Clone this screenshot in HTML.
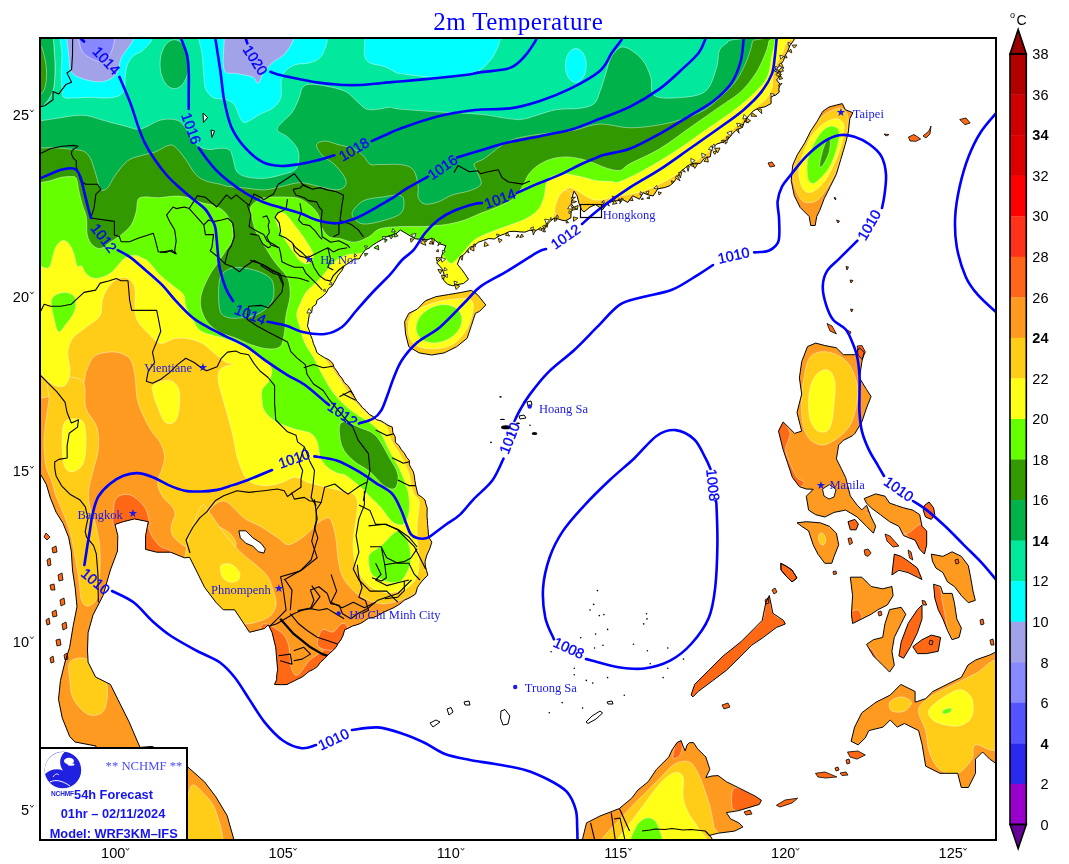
<!DOCTYPE html>
<html><head><meta charset="utf-8"><title>2m Temperature</title>
<style>html,body{margin:0;padding:0;background:#fff;}body{width:1069px;height:864px;overflow:hidden;position:relative;}svg{position:absolute;left:0;top:0;}</style></head><body>
<svg width="1069" height="864" viewBox="0 0 1069 864">
<defs>
<clipPath id="mc"><rect x="40" y="38" width="956" height="802"/></clipPath>
<clipPath id="cl_main"><path d="M36,34 L796,34 L793.8,40.3 L789.9,45.5 L787.8,51 L785.1,55.7 L783.4,60.7 L780,65.6 L774.2,70.7 L781.4,74.5 L776.6,79.9 L780,84.1 L778.8,89 L779.2,92.2 L775.6,95.2 L771,96.5 L771.1,103.5 L765,106.8 L758.8,108.1 L753.3,110.9 L748.9,115.7 L744.8,120.8 L742.2,127.4 L735.8,130.4 L731.8,134.6 L728,139.2 L722.9,142.1 L716.9,144 L711.7,148.1 L710.3,156.7 L704.4,158.3 L700.3,163.4 L694.4,163.2 L689.4,164.7 L685.2,167.8 L680.2,172.1 L676.7,178.2 L673.6,182.3 L669.9,185.6 L664.9,187.5 L657.9,188.8 L653.1,196 L648.2,194.9 L643,192.7 L639.5,199.2 L632.7,195.8 L627.8,202.5 L622.5,199.5 L617.9,200.6 L613.5,201.2 L607.6,203 L602.7,209.6 L595.6,204.6 L590,207 L584,212 L581.7,210 L579,203.4 L577.1,195.9 L574.1,191.1 L572.8,195 L572.3,199.4 L571.2,203.7 L574.2,207.7 L571.1,211.7 L570.9,217.9 L565.5,220.7 L562.9,220.5 L554.8,217.9 L550.7,220.8 L547.1,224.4 L543.9,228.7 L538.4,229.1 L534.5,231.4 L530,230.1 L525.1,232.1 L520,231.9 L514.8,231.3 L509.5,231.5 L504.5,233.9 L499.3,235.9 L494.3,239 L488.8,238.5 L483.7,240.3 L478.4,242.2 L474.3,245.6 L469.8,247.3 L467,250.7 L464.3,254.3 L460.2,256.9 L457.4,264.2 L462.2,270 L464.8,273.8 L468.5,279.3 L463.5,283.5 L457.8,284.5 L452.7,285.8 L447.7,284.4 L443.6,280.1 L444,273.9 L441.9,268.6 L436.6,262.7 L441.3,259.2 L441.9,255 L443.4,251.7 L445.9,245.7 L439.4,243.7 L435.6,240.8 L431.7,238.2 L426.6,240.1 L421.7,239.3 L415.8,238.9 L410.8,236.3 L400.4,230 L395.9,233.9 L390.3,235.5 L385.5,237.3 L381.3,240 L376.7,242.6 L372.3,245.4 L369.1,248.1 L365.5,249.6 L361.6,254.7 L359.2,258.9 L354.8,259 L349.3,262.5 L344,266.1 L341.9,270.6 L338.2,275.2 L334.5,281.9 L332.2,285.9 L328.5,288.5 L326,293.2 L322.2,296.7 L317,300.2 L316.1,304.3 L312.3,307 L311.9,311.3 L309.3,314.5 L307.5,326.2 L309.3,330.5 L310.5,335 L312.3,339.3 L313.5,343.8 L315.4,348 L316.8,352.5 L320.6,355.3 L324.6,357.7 L328.9,359.8 L332.6,363.1 L334.2,367.5 L336.9,371.1 L339.2,375 L342.1,378.4 L344.2,382.4 L347.7,385.5 L350.3,389.2 L352.5,393.1 L354.6,397.1 L356.9,401 L359.9,404.3 L362.5,407.6 L366,410.7 L369.2,414.3 L373.2,416.6 L376.8,419.8 L380.9,420.8 L384.5,423 L388,425.3 L392.3,427.1 L392.8,432.2 L395.2,436.9 L395.4,442.3 L398.9,445.5 L401.3,449.6 L404.3,453.1 L406.6,457.3 L409.3,460.5 L409.4,464.8 L411.3,468.4 L413.4,471.9 L414.3,475.9 L414.9,480.6 L415.7,485.3 L416.8,490 L417.9,494.6 L421.8,497.1 L425,500.1 L425.9,504.1 L427.2,508.1 L427.1,512.2 L427,516.2 L427.4,520.3 L427.6,524.3 L428,528.6 L428.3,533 L428.8,537.1 L431.8,542.1 L429.7,548.9 L426.8,555.1 L425,561.6 L425.3,566 L426.5,570.2 L427.8,575.1 L424.9,578 L422.1,581 L419.6,584.2 L417.4,587.5 L415.6,594 L410.7,597.2 L404.2,600.3 L401.1,603 L397.8,605.3 L393.1,608 L388.1,610.2 L383.1,612.5 L378.4,615.3 L373.7,617.4 L368.5,618.2 L364.6,620.9 L360.6,623.4 L356.5,624.9 L352.3,626.1 L348.4,628.2 L344.7,629.7 L342.9,635.9 L340.8,639.9 L338.1,643.4 L335.9,647.5 L332.1,651.2 L328.2,654.7 L324.6,658.6 L320.6,662.1 L317.4,666.5 L313.6,669.3 L309.2,671.3 L305.6,674.3 L301.9,677.2 L298.1,678.9 L294.4,680.8 L290.7,682.6 L287,684.5 L281.4,684.7 L274.5,684.5 L276.6,679.7 L276.8,674.6 L277.6,669.7 L275.7,647.2 L272,632.3 L268.3,624.8 L264.5,628.5 L249.5,632.3 L242.1,621 L234.6,609.8 L223.3,609.8 L215.9,602.3 L204.6,587.4 L197.2,572.4 L189.7,557.4 L184.4,557.8 L170.6,552.2 L156.7,552.2 L145.6,549.4 L145.6,535.6 L148.3,521.7 L134.4,518.9 L123.3,521.7 L115,524.4 L117.8,535.6 L117.5,551 L110.4,570 L103,595.6 L93,615 L88.1,632.6 L87.5,650 L88.1,662.2 L95.6,677 L110.4,684.4 L117.8,699.3 L128.9,721.5 L140,747.4 L152.3,746.4 L180,760 L187.8,767 L204.6,781.9 L215.9,796.9 L227.1,815.6 L234.6,842 L100,842 L96,746 L75,742 L69.6,736.3 L62.2,717.8 L58.5,699.3 L60.4,680.7 L65,662 L69.6,647.4 L73.3,625.2 L77,606.7 L75.2,588.1 L72.5,570 L71.3,551.1 L68.6,537.2 L63,523.3 L56.1,512.2 L50.5,498.3 L46.3,484.4 L40.8,474.7 L36,474Z"/></clipPath>
<clipPath id="cl_hn"><path d="M404.6,321.7 L408.8,313.3 L417.1,309.2 L425.4,300.8 L435.8,296.7 L448.3,294.6 L460.8,292.5 L471.3,290.4 L477.5,294.6 L485.8,305 L479.6,311.3 L475.4,313.3 L471.3,325.8 L467.1,338.3 L456.7,346.7 L444.2,352.9 L431.7,355 L419.2,352.9 L408.8,346.7 L405.6,334.2Z"/></clipPath>
<clipPath id="cl_tw"><path d="M836.3,105.1 L842.3,103.6 L845.3,109.7 L852.9,112.7 L849.8,118.7 L848.3,132.2 L845.3,144.3 L840.8,159.3 L836.3,174.4 L830.3,186.4 L824.3,198.4 L819.7,210.5 L816.7,216.5 L815.2,225.5 L810.7,225.5 L809.2,216.5 L800.2,207.5 L794.2,195.4 L791.2,180.4 L792.7,165.3 L797.3,154.8 L804.8,142.8 L810.8,130.8 L816.8,121.8 L822.8,111.3 L829,107Z"/></clipPath>
<clipPath id="cl_ph"><path d="M807.5,346.6 L815.6,343.1 L824.8,345.5 L836.4,347.8 L843.3,354.7 L854.9,354.7 L859.5,347.8 L864.2,352.4 L861.9,361.7 L859.5,377.9 L866.5,389.4 L871.1,396.4 L866.5,408 L861.9,421.9 L854.9,433.4 L852.6,435.7 L843.3,440.4 L838.7,445 L836.4,458.9 L841,468.1 L845.6,477.4 L848,486.7 L850.3,495.9 L857.2,505.2 L861.9,509.8 L866.5,505.2 L871.1,517 L875.7,526.3 L873.4,533.2 L866.5,526.3 L857.2,517 L845.6,510.1 L834.1,512.4 L824.8,517 L815.6,514.7 L808.6,510.1 L806.3,496.2 L813.2,489.3 L806.3,489 L799.4,486.7 L792.4,477.4 L787.8,463.5 L783.1,449.6 L778.5,431.1 L783.1,421.9 L794.7,433.4 L801.7,431.1 L797,412.6 L801.7,394.1 L799.4,377.9 L801.7,361.7Z"/><path d="M864.2,498.5 L875.7,493.9 L885,496.2 L889.6,503.1 L896.6,505.5 L903.5,507.8 L912.8,510.1 L919.7,514.7 L922,526.3 L926.7,530.9 L926.7,544.8 L924.4,554.1 L919.7,549.4 L915.1,540.2 L903.5,535.6 L898.9,526.3 L889.6,521.7 L880.4,514.7 L871.1,507.8 L866.5,503.1Z"/><path d="M924.4,505.5 L929,502 L933.6,507.8 L934.8,514.7 L931.3,519.4 L925.5,517 L923.2,510.1Z"/><path d="M797,522.8 L806.3,521.7 L820.2,522.8 L829.4,526.3 L836.4,533.2 L838.7,544.8 L834.1,556.4 L831.8,563.3 L824.8,563.3 L817.9,554.1 L813.2,544.8 L808.6,530.9 L801.7,526.3Z"/><path d="M848,521.7 L854.9,519.4 L858.4,524 L856.1,529.8 L850.3,529.8Z"/><path d="M931.3,554.1 L942.9,556.4 L952.1,551.8 L961.4,556.4 L968.3,565.6 L970.6,577.2 L973,591.1 L975.3,600.4 L968.3,602.7 L961.4,595.7 L954.4,586.5 L947.5,581.9 L942.9,572.6 L935.9,568 L932.4,561Z"/><path d="M933.6,584.2 L940.6,586.5 L942.9,593.4 L952.1,593.4 L954.4,602.7 L956.8,618.9 L961.4,628.1 L959.1,637.4 L952.1,639.7 L947.5,630.5 L942.9,618.9 L938.2,609.6 L934.8,598.1Z"/><path d="M850.3,577.2 L861.9,577.2 L871.1,586.5 L882.7,588.8 L891.9,586.5 L893.1,595.7 L887.3,605 L878.1,609.6 L871.1,614.3 L861.9,618.9 L852.6,623.5 L851.4,614.3 L852.6,595.7Z"/><path d="M889.6,609.6 L901.2,607.3 L905.8,614.3 L901.2,623.5 L894.3,637.4 L891.9,651.3 L894.3,665.2 L889.6,672.1 L882.7,665.2 L873.4,655.9 L866.5,644.4 L873.4,639.7 L882.7,637.4 L885,623.5Z"/><path d="M908.1,623.5 L917.4,609.6 L922,605 L922,618.9 L917.4,632.8 L910.5,646.7 L903.5,658.2 L898.9,655.9 L901.2,642Z"/><path d="M912.8,646.7 L922,639.7 L931.3,635.1 L940.6,637.4 L938.2,651.3 L926.7,653.6 L917.4,653.6Z"/><path d="M894.3,554.1 L901.2,556.4 L908.1,561 L917.4,568 L922,579.5 L917.4,577.2 L908.1,572.6 L898.9,570.3 L891.9,574.9Z"/><path d="M851.1,741.3 L854.6,727.1 L861.7,712.9 L876,702.2 L890.2,695.1 L900.8,684.4 L915.1,691.5 L915.1,702.2 L925.7,698.6 L932.8,691.5 L947,684.4 L961.3,677.3 L968,665 L975.5,660 L989.7,655 L1000,650 L1000,766.2 L989.7,759.1 L982.6,752 L975.5,759.1 L975.5,773.3 L968.4,787.5 L961.3,787.5 L957.7,773.3 L939.9,773.3 L925.7,766.2 L922.2,744.9 L918.6,730.6 L904.4,723.5 L897.3,727.1 L890.2,720 L883.1,727.1 L868.8,730.6 L865.3,737.8 L858.2,744.9Z"/><path d="M691.1,695.1 L694.7,684.4 L708.9,670.2 L723.1,656 L740.9,641.8 L748,634.7 L762.2,620.4 L765.8,602.7 L769.3,595.5 L772.9,613.3 L783.5,620.4 L785.3,624 L776.4,627.5 L762.2,638.2 L751.5,645.3 L740.9,656 L726.6,670.2 L712.4,680.9 L698.2,691.5 L692.9,696.9Z"/><path d="M780.8,563.3 L786,566 L792,570 L797,578 L792,581.9 L786,576 L781,570Z"/></clipPath>
<clipPath id="cl_bo"><path d="M582.3,842 L582.3,840 L586.5,822.9 L600,816 L619.4,808.5 L631.7,798.2 L637.9,790 L648.2,781.7 L656.4,769.4 L668.8,757 L672,750 L677,742.6 L681.1,740.6 L683,746 L685.2,750.9 L687,745 L689.4,742.7 L693.5,742.6 L697.6,748.8 L705.8,757 L709.9,769.4 L705.8,777.6 L712,776 L718.2,775.6 L726.4,781.7 L738.8,787.9 L755.2,796.1 L761.4,800.3 L759.3,804.4 L738.8,810.6 L726.4,812.6 L730.5,818.8 L738.8,822.9 L742.9,827 L734.6,831.1 L718.2,833.2 L709.9,835.3 L714,842Z"/></clipPath>
<clipPath id="cl_mb"><path d="M36,34 L796,34 L793.8,40.3 L789.9,45.5 L787.8,51 L785.1,55.7 L783.4,60.7 L780,65.6 L774.2,70.7 L781.4,74.5 L776.6,79.9 L780,84.1 L778.8,89 L779.2,92.2 L775.6,95.2 L771,96.5 L771.1,103.5 L765,106.8 L758.8,108.1 L753.3,110.9 L748.9,115.7 L744.8,120.8 L742.2,127.4 L735.8,130.4 L731.8,134.6 L728,139.2 L722.9,142.1 L716.9,144 L711.7,148.1 L710.3,156.7 L704.4,158.3 L700.3,163.4 L694.4,163.2 L689.4,164.7 L685.2,167.8 L680.2,172.1 L676.7,178.2 L673.6,182.3 L669.9,185.6 L664.9,187.5 L657.9,188.8 L653.1,196 L648.2,194.9 L643,192.7 L639.5,199.2 L632.7,195.8 L627.8,202.5 L622.5,199.5 L617.9,200.6 L613.5,201.2 L607.6,203 L602.7,209.6 L595.6,204.6 L590,207 L584,212 L581.7,210 L579,203.4 L577.1,195.9 L574.1,191.1 L572.8,195 L572.3,199.4 L571.2,203.7 L574.2,207.7 L571.1,211.7 L570.9,217.9 L565.5,220.7 L562.9,220.5 L554.8,217.9 L550.7,220.8 L547.1,224.4 L543.9,228.7 L538.4,229.1 L534.5,231.4 L530,230.1 L525.1,232.1 L520,231.9 L514.8,231.3 L509.5,231.5 L504.5,233.9 L499.3,235.9 L494.3,239 L488.8,238.5 L483.7,240.3 L478.4,242.2 L474.3,245.6 L469.8,247.3 L467,250.7 L464.3,254.3 L460.2,256.9 L457.4,264.2 L462.2,270 L464.8,273.8 L468.5,279.3 L463.5,283.5 L457.8,284.5 L452.7,285.8 L447.7,284.4 L443.6,280.1 L444,273.9 L441.9,268.6 L436.6,262.7 L441.3,259.2 L441.9,255 L443.4,251.7 L445.9,245.7 L439.4,243.7 L435.6,240.8 L431.7,238.2 L426.6,240.1 L421.7,239.3 L415.8,238.9 L410.8,236.3 L400.4,230 L395.9,233.9 L390.3,235.5 L385.5,237.3 L381.3,240 L376.7,242.6 L372.3,245.4 L369.1,248.1 L365.5,249.6 L361.6,254.7 L359.2,258.9 L354.8,259 L349.3,262.5 L344,266.1 L341.9,270.6 L338.2,275.2 L334.5,281.9 L332.2,285.9 L328.5,288.5 L326,293.2 L322.2,296.7 L317,300.2 L316.1,304.3 L312.3,307 L311.9,311.3 L309.3,314.5 L307.5,326.2 L309.3,330.5 L310.5,335 L312.3,339.3 L313.5,343.8 L315.4,348 L316.8,352.5 L320.6,355.3 L324.6,357.7 L328.9,359.8 L332.6,363.1 L334.2,367.5 L336.9,371.1 L339.2,375 L342.1,378.4 L344.2,382.4 L347.7,385.5 L350.3,389.2 L352.5,393.1 L354.6,397.1 L356.9,401 L359.9,404.3 L362.5,407.6 L366,410.7 L369.2,414.3 L373.2,416.6 L376.8,419.8 L380.9,420.8 L384.5,423 L388,425.3 L392.3,427.1 L392.8,432.2 L395.2,436.9 L395.4,442.3 L398.9,445.5 L401.3,449.6 L404.3,453.1 L406.6,457.3 L409.3,460.5 L409.4,464.8 L411.3,468.4 L413.4,471.9 L414.3,475.9 L414.9,480.6 L415.7,485.3 L416.8,490 L417.9,494.6 L421.8,497.1 L425,500.1 L425.9,504.1 L427.2,508.1 L427.1,512.2 L427,516.2 L427.4,520.3 L427.6,524.3 L428,528.6 L428.3,533 L428.8,537.1 L431.8,542.1 L429.7,548.9 L426.8,555.1 L425,561.6 L425.3,566 L426.5,570.2 L427.8,575.1 L424.9,578 L422.1,581 L419.6,584.2 L417.4,587.5 L415.6,594 L410.7,597.2 L404.2,600.3 L401.1,603 L397.8,605.3 L393.1,608 L388.1,610.2 L383.1,612.5 L378.4,615.3 L373.7,617.4 L368.5,618.2 L364.6,620.9 L360.6,623.4 L356.5,624.9 L352.3,626.1 L348.4,628.2 L344.7,629.7 L342.9,635.9 L340.8,639.9 L338.1,643.4 L335.9,647.5 L332.1,651.2 L328.2,654.7 L324.6,658.6 L320.6,662.1 L317.4,666.5 L313.6,669.3 L309.2,671.3 L305.6,674.3 L301.9,677.2 L298.1,678.9 L294.4,680.8 L290.7,682.6 L287,684.5 L281.4,684.7 L274.5,684.5 L276.6,679.7 L276.8,674.6 L277.6,669.7 L275.7,647.2 L272,632.3 L268.3,624.8 L264.5,628.5 L249.5,632.3 L242.1,621 L234.6,609.8 L223.3,609.8 L215.9,602.3 L204.6,587.4 L197.2,572.4 L189.7,557.4 L184.4,557.8 L170.6,552.2 L156.7,552.2 L145.6,549.4 L145.6,535.6 L148.3,521.7 L134.4,518.9 L123.3,521.7 L115,524.4 L117.8,535.6 L117.5,551 L110.4,570 L103,595.6 L93,615 L88.1,632.6 L87.5,650 L88.1,662.2 L95.6,677 L110.4,684.4 L117.8,699.3 L128.9,721.5 L140,747.4 L152.3,746.4 L180,760 L187.8,767 L204.6,781.9 L215.9,796.9 L227.1,815.6 L234.6,842 L100,842 L96,746 L75,742 L69.6,736.3 L62.2,717.8 L58.5,699.3 L60.4,680.7 L65,662 L69.6,647.4 L73.3,625.2 L77,606.7 L75.2,588.1 L72.5,570 L71.3,551.1 L68.6,537.2 L63,523.3 L56.1,512.2 L50.5,498.3 L46.3,484.4 L40.8,474.7 L36,474Z"/><path d="M582.3,842 L582.3,840 L586.5,822.9 L600,816 L619.4,808.5 L631.7,798.2 L637.9,790 L648.2,781.7 L656.4,769.4 L668.8,757 L672,750 L677,742.6 L681.1,740.6 L683,746 L685.2,750.9 L687,745 L689.4,742.7 L693.5,742.6 L697.6,748.8 L705.8,757 L709.9,769.4 L705.8,777.6 L712,776 L718.2,775.6 L726.4,781.7 L738.8,787.9 L755.2,796.1 L761.4,800.3 L759.3,804.4 L738.8,810.6 L726.4,812.6 L730.5,818.8 L738.8,822.9 L742.9,827 L734.6,831.1 L718.2,833.2 L709.9,835.3 L714,842Z"/></clipPath>
</defs>
<text x="518.2" y="29.6" text-anchor="middle" font-family="Liberation Serif,serif" font-size="25" letter-spacing="0.45" fill="#0000ff">2m Temperature</text>
<g clip-path="url(#mc)">
<rect x="40" y="38" width="956" height="802" fill="#fff"/>
<g clip-path="url(#cl_main)">
<rect x="30" y="30" width="980" height="820" fill="#ffcc18"/>
<path d="M93.2,357.2 C96.3,354.1 100.5,353.4 104.8,352.6 C109,351.8 114.5,351.5 118.7,352.6 C123,353.8 127.6,355.6 130.3,359.5 C133,363.4 133.8,369.1 134.9,375.7 C136.1,382.3 135.8,392.3 137.2,398.9 C138.5,405.4 140.7,409.8 143,415 C145.3,420.2 147.9,425.3 150.8,430 C153.7,434.7 158.2,438.7 160.5,443 C162.8,447.3 164.2,451.6 164.5,455.9 C164.8,460.2 163,465.4 162.1,468.9 C161.2,472.4 159.6,474 158.9,477 C158.2,480 157.3,483.2 158.1,486.7 C158.9,490.2 161.4,494.8 163.7,498 C166,501.2 169.9,503.4 171.8,506.1 C173.7,508.8 175.1,511.2 175.1,514.2 C175.1,517.2 172.4,520.7 171.8,523.9 C171.2,527.1 170.7,530.6 171.8,533.6 C172.9,536.6 175.6,539.3 178.3,541.7 C181,544.1 185,546.3 188,548.2 C191,550.1 194.1,551.1 196.1,553.1 C198.1,555.1 201.8,555.5 200,560 C198.2,564.5 193.3,570 185,580 C176.7,590 157.5,600 150,620 C142.5,640 125,673.3 140,700 C155,726.7 221.7,755.3 240,780 C258.3,804.7 285,836.7 250,848 C215,859.3 66.7,923 30,848 C-6.7,773 28.3,473 30,398 C31.7,323 37.2,398.2 40,398 C42.8,397.8 43.7,398 47,397 C50.3,396 54.2,394 60,392 C65.8,390 77.3,388.5 81.7,385 C86.1,381.5 84.4,375.7 86.3,371.1 C88.2,366.5 90.1,360.3 93.2,357.2Z" fill="#ff9a20" stroke="#fff" stroke-opacity="0.55" stroke-width="0.8"/>
<path d="M50,380 C55.5,376.7 75.7,375.4 81.7,380 C87.7,384.6 83.3,399.9 85.8,407.8 C88.3,415.7 94.8,420.3 96.9,427.2 C99,434.1 99,442 98.3,449.4 C97.6,456.8 94.4,464.8 92.8,471.7 C91.2,478.6 89.1,485.1 88.6,491.1 C88.1,497.1 88.8,502.2 90,507.8 C91.2,513.4 94,517.9 95.6,524.4 C97.2,530.9 99,538.4 99.7,546.7 C100.4,555 100.2,565.9 99.7,574.4 C99.2,582.9 99,592.7 97,598 C95,603.3 90.6,605.7 88,606 C85.4,606.3 83,604.3 81.5,600 C80,595.7 79.8,585.8 79,580 C78.2,574.2 77.3,569.8 76.5,565 C75.7,560.2 75,555.7 74.1,551.1 C73.2,546.5 72.4,541.8 71.3,537.2 C70.2,532.6 68.8,527.9 67.2,523.3 C65.6,518.7 63.5,513.9 61.6,509.4 C59.7,504.8 57.6,500.6 56,496 C54.4,491.4 53.6,486.7 52,482 C50.4,477.3 47.8,472.7 46.5,468 C45.2,463.3 44.9,458.7 44.5,454 C44.1,449.3 43.8,445.7 44,440 C44.2,434.3 45.2,426.7 46,420 C46.8,413.3 48.3,406.7 49,400 C49.7,393.3 44.5,383.3 50,380Z" fill="#ffcc18" stroke="#fff" stroke-opacity="0.55" stroke-width="0.8"/>
<path d="M69.9,662.2 C72.4,658.5 79.9,657.1 84.9,658.4 C89.9,659.6 96.2,664.7 99.9,669.7 C103.7,674.7 106.8,681.5 107.4,688.4 C108,695.2 106.7,706.4 103.6,710.8 C100.5,715.2 93.6,716.5 88.6,714.6 C83.6,712.7 76.8,705.2 73.7,699.6 C70.6,694 70.5,687.1 69.9,680.9 C69.3,674.7 67.4,666 69.9,662.2Z" fill="#ffcc18" stroke="#fff" stroke-opacity="0.55" stroke-width="0.8"/>
<path d="M190,788 C193.2,779.7 200.7,791 205,795 C209.3,799 213.3,803.7 216,812 C218.7,820.3 226,839.5 221,845 C216,850.5 191.2,854.5 186,845 C180.8,835.5 186.8,796.3 190,788Z" fill="#ffcc18" stroke="#fff" stroke-opacity="0.55" stroke-width="0.8"/>
<path d="M209.1,511 C210.2,508.3 214.5,504.5 217.2,502.9 C219.9,501.3 222.6,500.5 225.3,501.3 C228,502.1 230.2,504.9 233.4,507.7 C236.6,510.5 239.8,515.1 244.4,518.3 C249,521.5 255.5,523.5 261.1,526.7 C266.7,530 273.2,534.8 277.8,537.8 C282.4,540.8 284.3,545.2 288.9,544.7 C293.5,544.2 301,538.5 305.6,535 C310.2,531.5 312.9,526.8 316.7,523.9 C320.4,521 325.4,517.5 328.1,517.8 C330.8,518.1 331.6,522.1 333,525.9 C334.4,529.7 335.4,535.4 336.2,540.5 C337,545.6 337,551.3 337.8,556.7 C338.6,562.1 339.5,568.3 341.1,572.9 C342.7,577.5 344.8,580.8 347.5,584.3 C350.2,587.8 353.8,591.3 357.3,594 C360.8,596.7 364.6,598.9 368.6,600.5 C372.7,602.1 377.3,603.4 381.6,603.7 C385.9,604 390.2,603.2 394.5,602.1 C398.8,601 403.7,599.1 407.5,597.2 C411.3,595.3 414.5,593.4 417.2,590.7 C419.9,588 419.1,582 423.7,581 C428.3,580 441.4,565.2 445,585 C448.6,604.8 474.2,680.8 445,700 C415.8,719.2 305.8,710 270,700 C234.2,690 240.8,656.7 230,640 C219.2,623.3 207.5,610 205,600 C202.5,590 211.2,586.7 215,580 C218.8,573.3 224.5,565.8 228,560 C231.5,554.2 235.7,549.4 236,545 C236.3,540.6 232.7,536.6 230.1,533.6 C227.5,530.6 223.6,529.6 220.4,527.2 C217.2,524.8 212.6,521.8 210.7,519.1 C208.8,516.4 208,513.7 209.1,511Z" fill="#ff9a20" stroke="#fff" stroke-opacity="0.55" stroke-width="0.8"/>
<path d="M200,508 C204.1,500.1 205.5,508.8 209.4,512.8 C213.3,516.8 218.2,525.7 223.3,532.2 C228.4,538.7 234.4,546.1 240,551.7 C245.6,557.3 252.1,561.4 256.7,565.6 C261.3,569.8 265,572.5 267.8,576.7 C270.6,580.9 271.9,586 273.3,590.6 C274.7,595.2 276.6,600.2 276.1,604.4 C275.7,608.6 273.4,612.8 270.6,615.6 C267.8,618.4 263.6,619.7 259.4,621.1 C255.2,622.5 250.5,624.1 245.6,623.9 C240.7,623.7 237.6,624 230,620 C222.4,616 207.5,610 200,600 C192.5,590 185,575.3 185,560 C185,544.7 195.9,515.9 200,508Z" fill="#ffcc18" stroke="#fff" stroke-opacity="0.55" stroke-width="0.8"/>
<path d="M220.8,565.6 C222.2,563.5 227.6,563.3 230.6,564.2 C233.6,565.1 237.5,568.6 238.9,571.1 C240.3,573.6 240.3,577.5 238.9,579.4 C237.5,581.2 233.4,582.7 230.6,582.2 C227.8,581.8 223.8,579.5 222.2,576.7 C220.6,573.9 219.4,567.7 220.8,565.6Z" fill="#ffff18" stroke="#fff" stroke-opacity="0.55" stroke-width="0.8"/>
<path d="M113.6,507.8 C113.9,502.6 115.1,498.9 117.8,496.7 C120.5,494.5 126.1,494 129.7,494.8 C133.3,495.6 136.7,498.9 139.4,501.3 C142.1,503.7 144.3,506.2 145.9,509.4 C147.5,512.6 148.9,517.9 149.1,520.7 C149.3,523.5 152.5,524.8 147,526 C141.5,527.2 121.6,531 116,528 C110.4,525 113.3,513 113.6,507.8Z" fill="#ff6814" stroke="#fff" stroke-opacity="0.55" stroke-width="0.8"/>
<path d="M146.7,527.2 C148.1,524 150.1,533.7 152.4,536.9 C154.7,540.1 157.8,544.5 160.5,546.6 C163.2,548.8 166.7,548.2 168.6,549.8 C170.5,551.4 176.1,555 172,556 C167.9,557 148.2,560.8 144,556 C139.8,551.2 145.3,530.4 146.7,527.2Z" fill="#ff6814" stroke="#fff" stroke-opacity="0.55" stroke-width="0.8"/>
<path d="M262,625 C265.1,620.3 276.3,629 280.6,632 C284.9,635 286.4,638.8 288,643 C289.6,647.2 289.3,652.5 290,657 C290.7,661.5 290.7,667 292,670 C293.3,673 295,676.7 298,675 C301,673.3 305.8,664 310,660 C314.2,656 319.3,654 323,651 C326.7,648 329.7,645 332,642 C334.3,639 335.3,635.5 337,633 C338.7,630.5 339.8,627.8 342,627 C344.2,626.2 349.3,625 350,628 C350.7,631 348.5,640.5 346,645 C343.5,649.5 339.3,651.7 335,655 C330.7,658.3 325,661.7 320,665 C315,668.3 310,670.8 305,675 C300,679.2 295.8,686.7 290,690 C284.2,693.3 274.7,700 270,695 C265.3,690 263.3,671.7 262,660 C260.7,648.3 258.9,629.7 262,625Z" fill="#ff6814" stroke="#fff" stroke-opacity="0.55" stroke-width="0.8"/>
<path d="M322,630 C324.5,627.7 329.8,633 333,632 C336.2,631 338.7,625 341,624 C343.3,623 346.2,623.3 347,626 C347.8,628.7 348.2,636 346,640 C343.8,644 338.7,649 334,650 C329.3,651 320,649.3 318,646 C316,642.7 319.5,632.3 322,630Z" fill="#ff6814" stroke="#fff" stroke-opacity="0.55" stroke-width="0.8"/>
<path d="M20,20 C150,-38.8 682,16.5 810,20 C938,23.5 792.5,35.7 788,41 C783.5,46.3 784.8,48.3 783,52 C781.2,55.7 778.7,59.2 777,63 C775.3,66.8 773.8,70.8 773,75 C772.2,79.2 773.2,84 772,88 C770.8,92 768.8,95.7 766,99 C763.2,102.3 758.9,104.8 755.4,108 C751.9,111.2 748.5,114.7 745,118 C741.5,121.3 741.2,121.7 734.5,127.8 C727.8,133.9 714.6,146.8 704.6,154.8 C694.6,162.8 684.6,169.7 674.6,175.7 C664.6,181.7 654.7,187.2 644.7,190.7 C634.7,194.2 623.2,195.2 614.7,196.7 C606.2,198.2 601.3,201.2 593.8,199.7 C586.3,198.2 575.4,187.6 569.8,187.7 C564.2,187.8 564.1,193.3 560,200 C555.9,206.7 553.3,221.3 545,228 C536.7,234.7 520,236.3 510,240 C500,243.7 490.3,244.2 485,250 C479.7,255.8 480.2,268 478,275 C475.8,282 478.3,287.8 472,292 C465.7,296.2 458.7,298.7 440,300 C421.3,301.3 378.3,300 360,300 C341.7,300 338,295.7 330,300 C322,304.3 314.3,318.5 312,326 C309.7,333.5 313.5,339 316,345 C318.5,351 323,356.2 327,362 C331,367.8 335.3,373.3 340,380 C344.7,386.7 349.7,395.7 355,402 C360.3,408.3 366.8,414 372,418 C377.2,422 382.8,422.3 386,426 C389.2,429.7 388.5,435 391,440 C393.5,445 398,450.3 401,456 C404,461.7 407,468 409,474 C411,480 411.4,487.7 413,492 C414.6,496.3 417.8,497.1 418.8,500 C419.8,502.9 419.1,505.6 418.8,509.7 C418.5,513.8 417.5,519.2 417.2,524.3 C416.9,529.4 416.9,535.6 417.2,540.5 C417.5,545.4 418.5,548.9 418.8,553.5 C419.1,558.1 419.3,563.8 418.8,568.1 C418.3,572.4 417.5,576.2 415.6,579.4 C413.7,582.6 410.5,585.5 407.5,587.5 C404.5,589.5 401.6,590.8 397.8,591.6 C394,592.4 389.1,593.1 384.8,592.4 C380.5,591.7 375.7,589.9 371.9,587.5 C368.1,585.1 364.8,581.6 362.1,577.8 C359.4,574 357.2,569.7 355.7,564.8 C354.2,559.9 353.5,554 353.2,548.6 C352.9,543.2 353.4,537.8 354,532.4 C354.6,527 355.9,521.3 356.5,516.2 C357.1,511.1 357.8,505.7 357.3,502 C356.8,498.3 355.8,495.7 353.3,493.9 C350.8,492.1 346.8,492.3 342.2,491.1 C337.6,489.9 331.2,488.3 325.6,486.9 C320.1,485.5 314,484.4 308.9,482.8 C303.8,481.2 299.6,477.2 295,477.2 C290.4,477.2 286.2,481.4 281.1,482.8 C276,484.2 269.9,486.1 264.4,485.6 C258.8,485.1 252.2,484.3 247.8,480 C243.4,475.7 240.5,467.3 238,460 C235.5,452.7 234.7,443.2 233,436 C231.3,428.8 229.7,423.2 228,417 C226.3,410.8 224.5,405 222.9,398.9 C221.3,392.8 218.6,385.4 218.2,380.4 C217.8,375.4 218.3,371.5 220.6,368.8 C222.9,366.1 231.3,365.4 232.1,364.2 C232.9,363 228.3,363.8 225.2,361.9 C222.1,360 217.5,355.7 213.6,352.6 C209.7,349.5 206.2,345.6 202,343.3 C197.8,341 192.7,339.5 188.1,338.7 C183.5,337.9 178.9,337.9 174.3,338.7 C169.7,339.5 164.7,344.1 160.4,343.3 C156.2,342.5 152.7,338 148.8,334.1 C144.9,330.2 139.5,324.8 137.2,320.2 C134.9,315.6 135.3,311.7 134.9,306.3 C134.5,300.9 136.1,292.4 134.9,287.8 C133.8,283.2 130.7,280.1 128,278.5 C125.3,276.9 121.8,277.3 118.7,278.5 C115.6,279.7 112.1,282 109.4,285.5 C106.7,289 104,294.4 102.5,299.4 C101,304.4 102.9,311 100.2,315.6 C97.5,320.2 90.9,323.2 86.3,327.1 C81.7,331 75.5,334.4 72.4,338.7 C69.3,342.9 68.2,347.2 67.8,352.6 C67.4,358 70.5,365.7 70.1,371.1 C69.7,376.5 68.2,382.7 65.5,385 C62.8,387.3 58.1,386.9 53.9,385 C49.6,383.1 44,375.4 40,373.4 C36,371.4 33.3,431.9 30,373 C26.7,314.1 -110,78.8 20,20Z" fill="#ffff18" stroke="#fff" stroke-opacity="0.55" stroke-width="0.8"/>
<path d="M153.4,385 C156.1,382.7 165.3,379.6 169.6,380.4 C173.8,381.2 177.3,384.6 178.9,389.6 C180.5,394.6 179.7,405.1 178.9,410.5 C178.1,415.9 176.6,420.1 174.3,422 C172,423.9 167.7,424.3 165,422 C162.3,419.7 160,412.7 158.1,408.1 C156.2,403.5 154.2,398.2 153.4,394.3 C152.6,390.4 150.7,387.3 153.4,385Z" fill="#ffff18" stroke="#fff" stroke-opacity="0.55" stroke-width="0.8"/>
<path d="M65,421.7 C67.3,418.9 72.9,418.4 76.1,418.9 C79.3,419.3 82.8,419.3 84.4,424.4 C86,429.5 86.2,442.4 85.8,449.4 C85.3,456.3 84.2,462.4 81.7,466.1 C79.2,469.8 73.6,472.2 70.6,471.7 C67.6,471.2 65,469.3 63.6,463.3 C62.2,457.3 62,442.5 62.2,435.6 C62.4,428.7 62.7,424.5 65,421.7Z" fill="#ffff18" stroke="#fff" stroke-opacity="0.55" stroke-width="0.8"/>
<path d="M554.6,211.3 C554.3,207.1 557.1,200.2 558.8,196.7 C560.5,193.2 562.9,190.8 565,190.4 C567.1,190.1 569.9,191.1 571.3,194.6 C572.7,198.1 573.6,207.1 573.3,211.3 C572.9,215.5 571.3,217.9 569.2,219.6 C567.1,221.3 563.2,223.1 560.8,221.7 C558.4,220.3 554.9,215.5 554.6,211.3Z" fill="#ffcc18" stroke="#fff" stroke-opacity="0.55" stroke-width="0.8"/>
<path d="M30,266 C33.3,307 37.5,265.7 40,266 C42.5,266.3 43.3,268 45,268 C46.7,268 48.4,269.3 50.1,266 C51.8,262.7 53.2,252.6 55.2,248.4 C57.2,244.2 59.8,241.6 62,240.8 C64.2,240 66.7,241.3 68.7,243.4 C70.7,245.5 72.4,249.7 73.8,253.5 C75.2,257.3 75.9,263.9 77.2,266 C78.5,268.1 80.2,264.7 81.7,266 C83.2,267.3 84,271.8 86.3,273.9 C88.6,276 91.8,278.5 95.6,278.5 C99.4,278.5 105.6,276.2 109.4,273.9 C113.2,271.6 116.2,267.2 118.7,264.6 C121.2,262.1 121.8,260.2 124.5,258.6 C127.2,257 131.5,255.2 134.6,255.2 C137.7,255.2 140.7,257.5 143.1,258.6 C145.5,259.7 146,259.3 148.8,262 C151.6,264.7 156.1,271.2 160,275 C163.9,278.8 168.1,281.7 172,285 C175.9,288.3 181.2,291.1 183.5,294.7 C185.8,298.2 184.2,302.1 185.8,306.3 C187.4,310.6 190.1,315.9 192.8,320.2 C195.5,324.4 196.6,328.7 202,331.8 C207.4,334.9 217.5,336 225.2,338.7 C232.9,341.4 242.1,344.9 248.3,348 C254.5,351.1 258.3,353.7 262.2,357.2 C266.1,360.7 270.3,364.9 271.5,368.8 C272.7,372.7 270.8,376.9 269.2,380.4 C267.6,383.9 263.4,386.3 262.2,389.6 C261,392.9 261.6,396.5 262,400 C262.4,403.5 262.3,407.1 264.4,410.6 C266.5,414.1 269.7,417.8 274.6,420.8 C279.5,423.8 287.7,426.6 293.7,428.7 C299.7,430.8 306.6,431 310.5,433.2 C314.4,435.4 315.7,438.6 317.2,442.1 C318.7,445.7 318.6,451.1 319.5,454.5 C320.4,457.9 321.2,459.9 322.9,462.3 C324.6,464.7 327,467.2 329.6,469.1 C332.2,471 336,472.6 338.6,473.6 C341.2,474.6 341.6,473 345,475 C348.4,477 354.7,482 358.9,485.6 C363.1,489.2 366.3,493 370,496.7 C373.7,500.4 377.4,503.6 381.1,507.8 C384.8,512 388.5,518.9 392.2,521.7 C395.9,524.5 400.5,525.8 403.3,524.4 C406.1,523 407.9,517.9 408.9,513.3 C409.8,508.7 409.6,502.2 409,497 C408.4,491.8 406.8,487.2 405,482 C403.2,476.8 400.7,471.3 398,466 C395.3,460.7 391.9,455.5 389,450 C386.1,444.5 383.7,437.5 380.7,433.1 C377.7,428.7 374.8,426.4 371,423.4 C367.2,420.4 362.7,418.5 358.1,415.3 C353.5,412.1 347.8,408.1 343.5,404 C339.2,399.9 335.6,395.9 332.1,391 C328.6,386.1 325.4,380.2 322.4,374.8 C319.4,369.4 317.3,364 314.3,358.6 C311.3,353.2 307,347.8 304.6,342.4 C302.2,337 301,330.8 299.7,326.2 C298.4,321.6 296.6,318.3 296.7,314.5 C296.8,310.7 298.8,307.2 300.3,303.6 C301.8,300 303.6,295.8 305.7,292.8 C307.8,289.8 310.2,288.3 312.9,285.6 C315.6,282.9 319.3,279.6 322,276.6 C324.7,273.6 326.8,270.2 329.2,267.5 C331.6,264.8 333.4,262.4 336.4,260.3 C339.4,258.2 343.1,256.1 347.3,254.9 C351.5,253.7 356.2,254.8 361.7,253.1 C367.1,251.4 370.3,247.2 380,245 C389.7,242.8 409.6,238.3 420,240 C430.4,241.7 437,251.1 442.1,255 C447.2,258.9 448,262.6 450.4,263.3 C452.8,264 454.2,261.4 456.7,259.2 C459.2,257 462.4,253.1 465.3,249.9 C468.2,246.7 470.6,242.8 474.3,240 C478.1,237.2 482.6,235.6 487.8,233.3 C493,231.1 499.7,228.8 505.7,226.5 C511.7,224.2 518.5,222.4 523.7,219.8 C529,217.2 533.8,214.5 537.2,210.8 C540.6,207.1 542.4,201.9 543.9,197.4 C545.4,192.9 545,187.3 546.1,183.9 C547.2,180.5 547.6,178.8 550.6,177.1 C553.6,175.4 558.9,173.8 564.1,173.8 C569.4,173.8 576.9,176 582.1,177.1 C587.3,178.2 590.6,179.8 595.5,180.5 C600.4,181.2 607.2,181.4 611.3,181.6 C615.4,181.8 614.4,183.6 620,181.6 C625.6,179.6 635.6,174.7 644.7,169.7 C653.8,164.7 664.6,158.3 674.6,151.8 C684.6,145.3 694.6,137.8 704.6,130.8 C714.6,123.8 726,116.4 734.5,109.9 C743,103.4 749.9,97.4 755.4,91.9 C760.9,86.4 764.6,82.9 767.4,76.9 C770.1,70.9 770.6,62 771.9,56 C773.1,50 774.2,47 774.9,41 C775.6,35 901.8,23.5 776,20 C650.2,16.5 144.3,-21 20,20 C-104.3,61 26.7,225 30,266Z" fill="#66ff00" stroke="#fff" stroke-opacity="0.55" stroke-width="0.8"/>
<path d="M51.6,299.4 C53.1,295.1 59.2,292.8 63.1,292.4 C67,292 72.8,293.9 74.7,297 C76.6,300.1 76.2,306.3 74.7,310.9 C73.2,315.5 68.2,321.3 65.5,324.8 C62.8,328.3 60.4,333 58.5,331.8 C56.6,330.6 55,323.3 53.9,317.9 C52.8,312.5 50.1,303.6 51.6,299.4Z" fill="#66ff00" stroke="#fff" stroke-opacity="0.55" stroke-width="0.8"/>
<path d="M368.6,561.6 C368.3,558.1 368,556.2 370.2,553.5 C372.4,550.8 377.8,548.6 381.6,545.4 C385.4,542.1 389.9,536.4 392.9,534 C395.9,531.6 397.2,530.2 399.4,530.8 C401.6,531.3 404.1,534.3 405.9,537.3 C407.6,540.3 409.1,544.5 409.9,548.6 C410.7,552.7 411.1,557.8 410.7,561.6 C410.3,565.4 409.1,568.1 407.5,571.3 C405.9,574.5 403.7,579.1 401,581 C398.3,582.9 394.5,582.9 391.3,582.6 C388.1,582.3 384.8,580.8 381.6,579.4 C378.4,578 374.1,577.5 371.9,574.5 C369.7,571.5 368.9,565.1 368.6,561.6Z" fill="#66ff00" stroke="#fff" stroke-opacity="0.55" stroke-width="0.8"/>
<path d="M275.8,215.4 C276.9,213.3 280.7,211.2 284.2,213.3 C287.7,215.4 292.9,223 296.7,227.9 C300.5,232.8 304.3,238 307.1,242.5 C309.9,247 313,251.5 313.3,255 C313.6,258.5 311.3,262.2 309.2,263.3 C307.1,264.4 303.6,263.4 300.8,261.3 C298,259.2 295.3,254.6 292.5,250.8 C289.7,247 286.6,242.5 284.2,238.3 C281.8,234.1 279.3,229.6 277.9,225.8 C276.5,222 274.8,217.5 275.8,215.4Z" fill="#ffff18" stroke="#fff" stroke-opacity="0.55" stroke-width="0.8"/>
<path d="M30,182.5 C33.3,209.6 36.6,182.8 40,182.5 C43.4,182.2 46.7,181.6 50.1,180.8 C53.5,180 56.9,178.2 60.3,177.5 C63.7,176.8 67.7,176.5 70.4,176.6 C73.1,176.7 74.9,175.9 76.3,178.3 C77.7,180.7 77.9,186.6 78.9,191 C79.9,195.4 81,200 82.3,204.5 C83.6,209 85.7,212.9 86.5,218 C87.3,223.1 86.3,230.4 87.3,234.9 C88.3,239.4 90.2,242.8 92.4,245.1 C94.7,247.3 97.7,249 100.8,248.4 C103.9,247.8 107.6,243.9 111,241.7 C114.4,239.4 117.7,237.7 121.1,234.9 C124.5,232.1 128.8,228.7 131.3,224.8 C133.8,220.9 135.2,215.5 136.3,211.3 C137.4,207.1 136.6,201.8 138,199.4 C139.4,197 141.4,197.2 144.8,196.9 C148.2,196.6 153.2,197.8 158.3,197.7 C163.4,197.6 170.1,196.1 175.2,196.1 C180.3,196.1 184.2,196.6 188.7,197.7 C193.2,198.8 197.7,201.4 202.2,202.8 C206.7,204.2 211.9,204.4 215.8,206.2 C219.7,207.9 223.1,210 225.8,213.3 C228.5,216.6 231.1,221.3 232.1,225.8 C233.1,230.3 233.1,236.2 232.1,240.4 C231.1,244.6 228.2,247 225.8,250.8 C223.4,254.6 220.3,259.1 217.5,263.3 C214.7,267.5 211.8,270.9 209.2,275.8 C206.6,280.7 203.3,287.3 201.9,292.5 C200.5,297.7 199.9,302.2 200.8,307.1 C201.7,312 204,317.5 207.1,321.7 C210.2,325.9 214.7,329.3 219.6,332.1 C224.5,334.9 231.1,336.2 236.3,338.3 C241.5,340.4 245.6,342.9 250.8,344.6 C256,346.4 262.6,348.5 267.5,348.8 C272.4,349.1 277.2,349.1 280,346.7 C282.8,344.3 283.2,339.4 284.2,334.2 C285.2,329 285,321.6 286,315.4 C287,309.1 289.5,302.3 290,296.7 C290.5,291.1 289.8,285.8 289,282 C288.2,278.2 286.8,276.7 285,274 C283.2,271.3 280.2,268.7 278,266 C275.8,263.3 273.8,260.7 272,258 C270.2,255.3 268.7,252.7 267,250 C265.3,247.3 263.8,245 262,242 C260.2,239 257.7,236.1 256,232 C254.3,227.9 252.9,221.7 252,217.5 C251.1,213.3 249.4,210.2 250.8,207.1 C252.2,204 256.9,200.6 260.6,198.9 C264.3,197.2 268.7,197.4 273.2,197.1 C277.7,196.8 283.2,196.8 287.7,197.1 C292.2,197.4 296.4,197.4 300.3,198.9 C304.2,200.4 308.1,203.4 311.1,206.1 C314.1,208.8 316.6,211.6 318.4,215.2 C320.2,218.8 320.2,224.2 322,227.8 C323.8,231.4 326.2,235 329.2,236.8 C332.2,238.6 335.8,237.7 340,238.6 C344.2,239.5 349.7,242.5 354.5,242.2 C359.3,241.9 364.6,239 368.9,236.8 C373.1,234.6 374.4,230.5 380,228.8 C385.6,227.1 395,226.9 402.5,226.5 C410,226.1 417.4,226.9 424.9,226.5 C432.4,226.1 440.7,225.4 447.4,224.3 C454.1,223.2 459.7,221.7 465.3,219.8 C470.9,217.9 475.4,215.3 481,213.1 C486.6,210.8 493.4,208.9 499,206.3 C504.6,203.7 510.6,201.1 514.7,197.4 C518.8,193.7 521.5,187.7 523.7,183.9 C526,180.2 526,177.9 528.2,174.9 C530.5,171.9 533.5,168.5 537.2,165.9 C540.9,163.3 545.7,160.7 550.6,159.2 C555.5,157.7 561.1,156.9 566.4,156.9 C571.6,156.9 577.2,158.1 582.1,159.2 C587,160.3 591.4,162.2 595.5,163.7 C599.6,165.2 602.7,167.1 606.8,168.2 C610.9,169.3 616.2,171.1 620,170.4 C623.8,169.7 623.1,167.4 629.7,163.8 C636.3,160.2 649.6,154.8 659.6,148.8 C669.6,142.8 679.6,134.8 689.6,127.8 C699.6,120.8 711,112.9 719.5,106.9 C728,100.9 734.5,97.4 740.5,91.9 C746.5,86.4 751.4,79.9 755.4,73.9 C759.4,67.9 762.1,61.5 764.4,56 C766.6,50.5 768,47 768.9,41 C769.8,35 894.8,23.5 770,20 C645.2,16.5 143.3,-7.1 20,20 C-103.3,47.1 26.7,155.4 30,182.5Z" fill="#339900" stroke="#fff" stroke-opacity="0.55" stroke-width="0.8"/>
<path d="M339.4,427.2 C339.9,423 341.8,421.7 345,421.7 C348.2,421.7 353.8,424.9 358.9,427.2 C364,429.5 370.5,430.5 375.6,435.6 C380.7,440.7 385.7,451.3 389.4,457.8 C393.1,464.3 396.9,469.3 397.8,474.4 C398.7,479.5 397.3,486.4 395,488.3 C392.7,490.2 388.1,488.4 383.9,485.6 C379.7,482.8 375.1,475.9 370,471.7 C364.9,467.5 357.9,464.8 353.3,460.6 C348.7,456.4 344.5,452.3 342.2,446.7 C339.9,441.1 338.9,431.4 339.4,427.2Z" fill="#339900" stroke="#fff" stroke-opacity="0.55" stroke-width="0.8"/>
<path d="M30,30 C-90.5,49.7 28.3,128.2 30,147.9 C31.7,167.6 35.5,147.9 40,147.9 C44.5,147.9 51.3,147.6 56.9,147.9 C62.5,148.2 69.3,149 73.8,149.6 C78.3,150.2 81.1,149.8 83.9,151.3 C86.7,152.9 88.7,155.1 90.7,158.9 C92.7,162.7 94.1,169 95.8,174.1 C97.5,179.2 98.8,187.1 100.8,189.3 C102.8,191.6 105.1,190.1 107.6,187.6 C110.1,185.1 112.6,178.6 116,174.1 C119.4,169.6 123.7,163.7 127.9,160.6 C132.1,157.5 136.9,156.9 141.4,155.5 C145.9,154.1 150.4,153.8 154.9,152.1 C159.4,150.4 165,146.2 168.4,145.4 C171.8,144.6 172.4,144.8 175.2,147 C178,149.2 181.9,154.4 185.3,158.9 C188.7,163.4 192.1,170.4 195.5,174.1 C198.9,177.8 201.5,179.1 205.6,180.8 C209.7,182.5 216.3,183.3 220,184.2 C223.7,185.1 223.7,185.7 228,186.3 C232.3,187 240.1,187.5 246.1,188.1 C252.1,188.7 258.2,190.2 264.2,189.9 C270.2,189.6 276.2,187.5 282.2,186.3 C288.2,185.1 294.3,182.6 300.3,182.6 C306.3,182.6 312.4,185.1 318.4,186.3 C324.4,187.5 332,190 336.4,189.9 C340.8,189.8 343.6,188 345,186 C346.4,184 346.7,181.5 345,178 C343.3,174.5 338.8,168.8 335,165 C331.2,161.2 325.1,158.4 322,155 C318.9,151.6 316,146.9 316.6,144.6 C317.2,142.3 321.9,141.1 325.5,141.1 C329.1,141.1 333.6,143.4 338,144.6 C342.4,145.8 348.1,146.4 352.2,148.2 C356.3,150 359.9,152.6 362.9,155.3 C365.9,158 367.1,162.7 370,164.2 C372.9,165.7 374.6,164.4 380,164.5 C385.4,164.6 396.9,163.8 402.5,164.8 C408.1,165.8 411.1,166.9 413.7,170.4 C416.3,173.9 417.4,181.6 418.2,186.1 C418.9,190.6 417.1,194.4 418.2,197.4 C419.3,200.4 421.5,203.4 424.9,204.1 C428.3,204.8 433.9,203.3 438.4,201.8 C442.9,200.3 446.6,197 451.8,195.1 C457,193.2 464.9,192.5 469.8,190.6 C474.7,188.7 479.9,187.3 481,183.9 C482.1,180.5 477.6,173.8 476.5,170.4 C475.4,167 473.2,165.6 474.3,163.7 C475.4,161.8 480.3,161.1 483.3,159.2 C486.3,157.3 489.3,154.8 492.3,152.5 C495.3,150.2 497.5,147.9 501.2,145.7 C504.9,143.4 508.7,140.9 514.7,139 C520.7,137.1 529.7,135.6 537.2,134.5 C544.7,133.4 553.2,132.9 559.6,132.2 C566,131.4 568.6,131.4 575.3,130 C582,128.6 590.7,124.4 599.8,124 C608.9,123.6 619.7,127.7 629.7,127.8 C639.7,127.9 650.6,126.3 659.6,124.8 C668.6,123.3 676.1,121.3 683.6,118.8 C691.1,116.3 698.6,113.4 704.6,109.9 C710.6,106.4 714.5,102.4 719.5,97.9 C724.5,93.4 730.5,87.9 734.5,82.9 C738.5,77.9 741,72.9 743.5,67.9 C746,62.9 748,57.5 749.5,53 C751,48.5 751.9,44.8 752.5,41 C753.1,37.2 873.4,31.8 753,30 C632.6,28.2 150.5,10.3 30,30Z" fill="#00b24a" stroke="#fff" stroke-opacity="0.55" stroke-width="0.8"/>
<path d="M219.6,280 C221,273.4 224.4,271.7 227.9,269.6 C231.4,267.5 235.2,267.1 240.4,267.5 C245.6,267.9 254,269.6 259.2,271.7 C264.4,273.8 269.3,276.2 271.7,280 C274.1,283.8 274.1,290.4 273.8,294.6 C273.5,298.8 272,301.9 269.6,305 C267.2,308.1 263.4,311.2 259.2,313.3 C255,315.4 249.8,316.8 244.6,317.5 C239.4,318.2 232.1,318.9 227.9,317.5 C223.7,316.1 221,315.4 219.6,309.2 C218.2,302.9 218.2,286.6 219.6,280Z" fill="#00b24a" stroke="#fff" stroke-opacity="0.55" stroke-width="0.8"/>
<path d="M352.7,211.5 C354.2,208.4 358.7,203.1 363.5,200.7 C368.3,198.3 375.5,198 381.6,197.1 C387.7,196.2 396.3,194.3 400,195.3 C403.7,196.3 404,199.9 404,203 C404,206.1 403.7,211 400,214 C396.3,217 387.7,219.3 381.6,221 C375.5,222.7 368,224.3 363.5,224 C359,223.7 356.3,221.1 354.5,219 C352.7,216.9 351.2,214.6 352.7,211.5Z" fill="#00b24a" stroke="#fff" stroke-opacity="0.55" stroke-width="0.8"/>
<path d="M53.5,20 C-59.2,21.6 53.3,33.9 53.5,39.7 C53.7,45.5 54.2,49.5 54.5,54.9 C54.8,60.2 55.2,66.2 55,71.8 C54.8,77.4 54.5,84.2 53.5,88.7 C52.5,93.2 50.7,96 49,98.8 C47.3,101.6 44.9,104.2 43.4,105.6 C41.9,107 42.2,106.9 40,107.3 C37.8,107.7 31.7,105.7 30,108 C28.3,110.3 28.3,118.9 30,121 C31.7,123.1 35.5,121.2 40,120.8 C44.5,120.3 51.3,119.1 56.9,118.3 C62.5,117.5 68.7,116.1 73.8,115.7 C78.9,115.3 83.1,115.1 87.3,115.7 C91.5,116.3 95.2,118 99.2,119.1 C103.2,120.2 106.8,121.4 111,122.5 C115.2,123.6 120,124.8 124.5,125.9 C129,127 134.1,129.3 138,129.3 C141.9,129.3 144.8,127.3 148.2,125.9 C151.6,124.5 154.9,121.9 158.3,120.8 C161.7,119.7 165,119.1 168.4,119.1 C171.8,119.1 175.8,119.4 178.6,120.8 C181.4,122.2 183.1,124.5 185.3,127.6 C187.6,130.7 189.8,136.3 192.1,139.4 C194.4,142.5 196.1,144.5 198.9,146.2 C201.7,147.9 205.4,149.2 209,149.5 C212.6,149.8 217.3,148.1 220.7,148.2 C224.1,148.3 227.5,148.2 229.6,150 C231.7,151.8 231.9,155.3 233.1,158.9 C234.3,162.5 234.6,168.4 236.7,171.3 C238.8,174.2 241.1,175.4 245.5,176.6 C249.9,177.8 257.4,178.7 263.3,178.4 C269.2,178.1 275.8,176.4 281.1,174.9 C286.4,173.4 292.3,172.2 295.3,169.5 C298.3,166.8 298.6,162.5 298.9,158.9 C299.2,155.3 298.9,151.8 297.1,148.2 C295.3,144.6 291.5,140.5 288.2,137.5 C284.9,134.5 278.7,132.8 277.5,130.4 C276.3,128 278.7,126.2 281.1,123.3 C283.5,120.3 288.8,116.8 291.8,112.7 C294.8,108.6 297.1,102.6 298.9,98.4 C300.7,94.2 300.6,90.2 302.4,87.8 C304.2,85.4 305.6,84.5 309.5,84.2 C313.4,83.9 319.6,84.8 325.5,86 C331.4,87.2 340.1,88.9 345.1,91.3 C350.2,93.7 352.2,97.2 355.8,100.2 C359.4,103.2 362.5,107.6 366.4,109.1 C370.2,110.6 375,109.4 378.9,109.1 C382.8,108.8 386,107.3 389.5,107.3 C393,107.3 391.6,108.3 400,109.1 C408.4,109.9 426.7,111.1 440,112 C453.3,112.9 468.4,113.2 480,114.3 C491.6,115.4 502.4,118 509.9,118.8 C517.4,119.5 517.4,120.3 524.9,118.8 C532.4,117.3 545.9,111.6 554.9,109.9 C563.9,108.2 572.3,109.4 578.8,108.4 C585.3,107.4 590.3,106.7 593.8,103.9 C597.3,101.2 597.8,96.9 599.8,91.9 C601.8,86.9 603.7,79.9 605.7,73.9 C607.7,67.9 608.7,60.5 611.7,56 C614.7,51.5 618.7,46.5 623.7,47 C628.7,47.5 637.2,54 641.7,59 C646.2,64 648.7,70.9 650.7,76.9 C652.7,82.9 649.6,91.4 653.6,94.9 C657.6,98.4 666.1,98.4 674.6,97.9 C683.1,97.4 697.6,96.9 704.6,91.9 C711.6,86.9 714,74.9 716.5,67.9 C719,60.9 717.5,54.5 719.5,50 C721.5,45.5 726.8,44.3 728.5,41 C730.2,37.7 842.5,33.5 730,30 C617.5,26.5 166.2,18.4 53.5,20Z" fill="#02e89c" stroke="#fff" stroke-opacity="0.55" stroke-width="0.8"/>
<path d="M30,30 C33.9,17 49.6,28.4 53.5,30 C57.4,31.6 53.3,35.6 53.5,39.7 C53.7,43.9 54.2,49.5 54.5,54.9 C54.8,60.2 55.2,66.2 55,71.8 C54.8,77.4 54.5,84.2 53.5,88.7 C52.5,93.2 50.7,96 49,98.8 C47.3,101.6 44.9,104.2 43.4,105.6 C41.9,107 42.2,106.9 40,107.3 C37.8,107.7 31.7,120.9 30,108 C28.3,95.1 26.1,43 30,30Z" fill="#00b24a" stroke="#fff" stroke-opacity="0.55" stroke-width="0.8"/>
<path d="M30,45 C31.7,36.5 37.7,43.3 40,45 C42.3,46.7 42.9,50.8 44,55 C45.1,59.2 46.2,65 46.5,70 C46.8,75 46.4,81 45.5,85 C44.6,89 43.6,92.2 41,94 C38.4,95.8 31.8,104.2 30,96 C28.2,87.8 28.3,53.5 30,45Z" fill="#339900" stroke="#fff" stroke-opacity="0.55" stroke-width="0.8"/>
<ellipse cx="174.4" cy="64.2" rx="14.4" ry="24.5" fill="#00b24a" stroke="#fff" stroke-opacity="0.55" stroke-width="0.8"/>
<path d="M60.3,39.7 C60.6,43.9 61.9,49.5 62,54.9 C62.1,60.2 61.1,66.2 61.1,71.8 C61.1,77.4 61.6,84.5 62,88.7 C62.4,92.9 61.7,95.7 63.7,97.2 C65.7,98.8 69.3,98 73.8,98 C78.3,98 85.1,97.2 90.7,97.2 C96.3,97.2 102.8,98.3 107.6,98 C112.4,97.7 116.6,97 119.4,95.5 C122.2,94 123.5,92.1 124.5,88.7 C125.5,85.3 124.7,79.4 125.3,75.2 C125.9,71 126.4,66.8 127.9,63.4 C129.5,60 132.3,56.9 134.6,54.9 C136.8,52.9 139.1,53.2 141.4,51.5 C143.7,49.8 146.5,46.8 148.2,44.8 C149.9,42.8 150.9,42.2 151.5,39.7 C152.1,37.2 167.2,31.6 152,30 C136.8,28.4 75.3,28.4 60,30 C44.7,31.6 60,35.6 60.3,39.7Z" fill="#00ffff" stroke="#fff" stroke-opacity="0.55" stroke-width="0.8"/>
<path d="M198.9,39.7 C199.6,43.9 201.4,48.7 202.2,54.9 C203,61.1 203.3,71.3 203.9,76.9 C204.5,82.5 204.2,85.3 205.6,88.7 C207,92.1 210,95.5 212.4,97.2 C214.8,98.9 217.4,98.3 220,98.8 C222.6,99.3 225.3,99.1 227.8,100.2 C230.3,101.3 232.8,102.5 234.9,105.5 C237,108.5 238.4,115.2 240.2,118 C242,120.8 242.2,123 245.5,122.4 C248.8,121.8 255.1,116.9 259.8,114.4 C264.6,111.9 270.4,110.2 274,107.3 C277.6,104.3 279.9,100.8 281.1,96.7 C282.3,92.6 280.5,86.6 281.1,82.4 C281.7,78.2 282.3,74.8 284.7,71.8 C287.1,68.8 291.2,66.2 295.3,64.7 C299.4,63.2 305.4,64.1 309.5,62.9 C313.6,61.7 317.5,60.3 320.2,57.6 C322.9,54.9 324.3,49.9 325.5,46.9 C326.7,43.9 326.9,42.6 327.3,39.8 C327.7,37 349.6,31.6 328,30 C306.4,28.4 219.5,28.4 198,30 C176.5,31.6 198.2,35.6 198.9,39.7Z" fill="#00ffff" stroke="#fff" stroke-opacity="0.55" stroke-width="0.8"/>
<path d="M364.6,30 C342,31.6 364.6,35.5 364.6,39.8 C364.6,44.1 363.7,51.9 364.6,55.8 C365.5,59.6 366.7,61.1 370,62.9 C373.3,64.7 380.1,64.9 384.2,66.4 C388.3,67.9 392.3,70.6 394.9,71.8 C397.5,73 392.9,72.6 400,73.5 C407.1,74.4 424.9,77.5 437.4,77.3 C449.9,77 466.2,74.5 474.8,72 C483.4,69.5 485.4,65.7 489,62 C492.6,58.3 494.8,53.5 496.5,50 C498.2,46.5 498.9,44.3 499.5,41 C500.1,37.7 522.5,31.8 500,30 C477.5,28.2 387.2,28.4 364.6,30Z" fill="#00ffff" stroke="#fff" stroke-opacity="0.55" stroke-width="0.8"/>
<ellipse cx="575.8" cy="65.5" rx="10.5" ry="17" fill="#00ffff" stroke="#fff" stroke-opacity="0.55" stroke-width="0.8"/>
<path d="M67,39.7 C67.3,43.9 68,49.5 68.7,54.9 C69.4,60.2 69,67.8 71.3,71.8 C73.6,75.8 77.6,76.9 82.3,78.6 C87,80.3 94.4,81.9 99.2,81.9 C104,81.9 107.9,80.3 111,78.6 C114.1,76.9 116,75.2 117.7,71.8 C119.4,68.4 119.4,62.2 121.1,58.3 C122.8,54.3 125.9,51.2 127.9,48.1 C129.9,45 132.2,42.7 133,39.7 C133.8,36.7 144,31.6 133,30 C122,28.4 78,28.4 67,30 C56,31.6 66.7,35.6 67,39.7Z" fill="#a2a2e8" stroke="#fff" stroke-opacity="0.55" stroke-width="0.8"/>
<path d="M78.9,39.7 C79.5,43.3 80.3,48.4 82.3,51.5 C84.3,54.6 87.6,56.6 90.7,58.3 C93.8,60 98,61.7 100.8,61.7 C103.6,61.7 105.6,60.6 107.6,58.3 C109.6,56 111.6,51.2 112.7,48.1 C113.8,45 114.1,42.7 114.4,39.7 C114.7,36.7 120.3,31.6 114.4,30 C108.5,28.4 84.8,28.4 78.9,30 C73,31.6 78.3,36.1 78.9,39.7Z" fill="#8888ff" stroke="#fff" stroke-opacity="0.55" stroke-width="0.8"/>
<path d="M224.2,39.8 C224.2,46.5 222.1,64.4 224.2,70 C226.3,75.6 231.9,72.3 236.7,73.5 C241.4,74.7 249.1,75.5 252.7,77.1 C256.2,78.7 256.2,83.9 258,83.3 C259.8,82.7 260.9,76.9 263.3,73.5 C265.7,70.1 268.6,66.2 272.2,62.9 C275.8,59.6 281.1,57.9 284.7,54 C288.2,50.1 291.9,43.8 293.5,39.8 C295.1,35.8 305.6,31.6 294,30 C282.4,28.4 235.6,28.4 224,30 C212.4,31.6 224.2,33.1 224.2,39.8Z" fill="#a2a2e8" stroke="#fff" stroke-opacity="0.55" stroke-width="0.8"/>
</g>
<g clip-path="url(#cl_hn)">
<path d="M404.6,321.7 L408.8,313.3 L417.1,309.2 L425.4,300.8 L435.8,296.7 L448.3,294.6 L460.8,292.5 L471.3,290.4 L477.5,294.6 L485.8,305 L479.6,311.3 L475.4,313.3 L471.3,325.8 L467.1,338.3 L456.7,346.7 L444.2,352.9 L431.7,355 L419.2,352.9 L408.8,346.7 L405.6,334.2Z" fill="#ffcc18"/>
<path d="M408.8,321.7 C409.7,317.2 411.9,314.1 415,311.3 C418.1,308.5 423,306.8 427.5,305 C432,303.2 436.9,301.8 442.1,300.8 C447.3,299.8 454.3,299.1 458.8,298.8 C463.3,298.5 466.8,297.8 469.2,298.8 C471.6,299.8 472.9,301.9 473.3,305 C473.7,308.1 472.7,313 471.3,317.5 C469.9,322 468.1,327.6 465,332.1 C461.9,336.6 457.4,341.8 452.5,344.6 C447.6,347.4 441.4,348.5 435.8,348.8 C430.2,349.1 423.5,348.4 419.2,346.7 C414.9,344.9 411.5,342.5 409.8,338.3 C408.1,334.1 407.9,326.2 408.8,321.7Z" fill="#ffff18" stroke="#fff" stroke-opacity="0.55" stroke-width="0.8"/>
<ellipse cx="439" cy="323.8" rx="24" ry="18" transform="rotate(-25 439 323.8)" fill="#66ff00" stroke="#fff" stroke-opacity="0.55" stroke-width="0.8"/>
</g>
<g clip-path="url(#cl_tw)">
<path d="M836.3,105.1 L842.3,103.6 L845.3,109.7 L852.9,112.7 L849.8,118.7 L848.3,132.2 L845.3,144.3 L840.8,159.3 L836.3,174.4 L830.3,186.4 L824.3,198.4 L819.7,210.5 L816.7,216.5 L815.2,225.5 L810.7,225.5 L809.2,216.5 L800.2,207.5 L794.2,195.4 L791.2,180.4 L792.7,165.3 L797.3,154.8 L804.8,142.8 L810.8,130.8 L816.8,121.8 L822.8,111.3 L829,107Z" fill="#ff9a20"/>
<path d="M795.7,159.3 C797,154.8 798,151.8 800.2,147.3 C802.5,142.8 806.2,136.7 809.2,132.2 C812.2,127.7 815.2,123.5 818.2,120.2 C821.2,117 823.8,114.7 827.3,112.7 C830.8,110.7 836.3,108.3 839.3,108.1 C842.3,107.8 843.8,109.2 845.3,111.2 C846.8,113.2 848.3,114.7 848.3,120.2 C848.3,125.7 846.8,137.3 845.3,144.3 C843.8,151.3 841.3,156.8 839.3,162.3 C837.3,167.8 835.8,172.4 833.3,177.4 C830.8,182.4 827.3,188.4 824.3,192.4 C821.3,196.4 818.7,199.9 815.2,201.4 C811.7,202.9 806.5,203.4 803.2,201.4 C800,199.4 797.5,193.9 795.7,189.4 C794,184.9 792.7,179.4 792.7,174.4 C792.7,169.4 794.5,163.8 795.7,159.3Z" fill="#ffcc18" stroke="#fff" stroke-opacity="0.55" stroke-width="0.8"/>
<path d="M801.7,186.4 C800.2,182.9 798.5,176.8 798.7,171.3 C799,165.8 801,159.3 803.2,153.3 C805.5,147.3 808.7,140.2 812.2,135.2 C815.7,130.2 820.3,126 824.3,123.2 C828.3,120.5 833,118.5 836.3,118.7 C839.5,119 842.8,120.9 843.8,124.7 C844.8,128.5 843.5,135.5 842.3,141.3 C841,147.1 838.8,153.3 836.3,159.3 C833.8,165.3 830.6,172.4 827.3,177.4 C824,182.4 820,186.9 816.7,189.4 C813.4,191.9 810.2,192.9 807.7,192.4 C805.2,191.9 803.2,189.9 801.7,186.4Z" fill="#ffff18" stroke="#fff" stroke-opacity="0.55" stroke-width="0.8"/>
<path d="M807.7,177.4 C807,173.4 806.5,165.3 807.7,159.3 C809,153.3 812.4,146.3 815.2,141.3 C818,136.3 821.3,131.7 824.3,129.2 C827.3,126.7 830.8,125.7 833.3,126.2 C835.8,126.7 838.8,128.2 839.3,132.2 C839.8,136.2 838,144.3 836.3,150.3 C834.5,156.3 831.8,163.3 828.8,168.3 C825.8,173.3 821,177.9 818.2,180.4 C815.4,182.9 814,183.9 812.2,183.4 C810.5,182.9 808.5,181.4 807.7,177.4Z" fill="#66ff00" stroke="#fff" stroke-opacity="0.55" stroke-width="0.8"/>
<path d="M819.7,165.3 C819.7,162.8 821.5,154.6 822.8,150.3 C824.1,146.1 826,141.3 827.3,139.8 C828.5,138.3 830,139.1 830.3,141.3 C830.5,143.6 830,149.3 828.8,153.3 C827.5,157.3 824.3,163.3 822.8,165.3 C821.3,167.3 819.7,167.8 819.7,165.3Z" fill="#339900" stroke="#fff" stroke-opacity="0.55" stroke-width="0.8"/>
</g>
<g clip-path="url(#cl_ph)">
<path d="M807.5,346.6 L815.6,343.1 L824.8,345.5 L836.4,347.8 L843.3,354.7 L854.9,354.7 L859.5,347.8 L864.2,352.4 L861.9,361.7 L859.5,377.9 L866.5,389.4 L871.1,396.4 L866.5,408 L861.9,421.9 L854.9,433.4 L852.6,435.7 L843.3,440.4 L838.7,445 L836.4,458.9 L841,468.1 L845.6,477.4 L848,486.7 L850.3,495.9 L857.2,505.2 L861.9,509.8 L866.5,505.2 L871.1,517 L875.7,526.3 L873.4,533.2 L866.5,526.3 L857.2,517 L845.6,510.1 L834.1,512.4 L824.8,517 L815.6,514.7 L808.6,510.1 L806.3,496.2 L813.2,489.3 L806.3,489 L799.4,486.7 L792.4,477.4 L787.8,463.5 L783.1,449.6 L778.5,431.1 L783.1,421.9 L794.7,433.4 L801.7,431.1 L797,412.6 L801.7,394.1 L799.4,377.9 L801.7,361.7Z" fill="#ff9a20"/>
<path d="M864.2,498.5 L875.7,493.9 L885,496.2 L889.6,503.1 L896.6,505.5 L903.5,507.8 L912.8,510.1 L919.7,514.7 L922,526.3 L926.7,530.9 L926.7,544.8 L924.4,554.1 L919.7,549.4 L915.1,540.2 L903.5,535.6 L898.9,526.3 L889.6,521.7 L880.4,514.7 L871.1,507.8 L866.5,503.1Z" fill="#ff9a20"/>
<path d="M924.4,505.5 L929,502 L933.6,507.8 L934.8,514.7 L931.3,519.4 L925.5,517 L923.2,510.1Z" fill="#ff9a20"/>
<path d="M797,522.8 L806.3,521.7 L820.2,522.8 L829.4,526.3 L836.4,533.2 L838.7,544.8 L834.1,556.4 L831.8,563.3 L824.8,563.3 L817.9,554.1 L813.2,544.8 L808.6,530.9 L801.7,526.3Z" fill="#ff9a20"/>
<path d="M848,521.7 L854.9,519.4 L858.4,524 L856.1,529.8 L850.3,529.8Z" fill="#ff9a20"/>
<path d="M931.3,554.1 L942.9,556.4 L952.1,551.8 L961.4,556.4 L968.3,565.6 L970.6,577.2 L973,591.1 L975.3,600.4 L968.3,602.7 L961.4,595.7 L954.4,586.5 L947.5,581.9 L942.9,572.6 L935.9,568 L932.4,561Z" fill="#ff9a20"/>
<path d="M933.6,584.2 L940.6,586.5 L942.9,593.4 L952.1,593.4 L954.4,602.7 L956.8,618.9 L961.4,628.1 L959.1,637.4 L952.1,639.7 L947.5,630.5 L942.9,618.9 L938.2,609.6 L934.8,598.1Z" fill="#ff9a20"/>
<path d="M850.3,577.2 L861.9,577.2 L871.1,586.5 L882.7,588.8 L891.9,586.5 L893.1,595.7 L887.3,605 L878.1,609.6 L871.1,614.3 L861.9,618.9 L852.6,623.5 L851.4,614.3 L852.6,595.7Z" fill="#ff9a20"/>
<path d="M889.6,609.6 L901.2,607.3 L905.8,614.3 L901.2,623.5 L894.3,637.4 L891.9,651.3 L894.3,665.2 L889.6,672.1 L882.7,665.2 L873.4,655.9 L866.5,644.4 L873.4,639.7 L882.7,637.4 L885,623.5Z" fill="#ff9a20"/>
<path d="M908.1,623.5 L917.4,609.6 L922,605 L922,618.9 L917.4,632.8 L910.5,646.7 L903.5,658.2 L898.9,655.9 L901.2,642Z" fill="#ff9a20"/>
<path d="M912.8,646.7 L922,639.7 L931.3,635.1 L940.6,637.4 L938.2,651.3 L926.7,653.6 L917.4,653.6Z" fill="#ff9a20"/>
<path d="M894.3,554.1 L901.2,556.4 L908.1,561 L917.4,568 L922,579.5 L917.4,577.2 L908.1,572.6 L898.9,570.3 L891.9,574.9Z" fill="#ff9a20"/>
<path d="M851.1,741.3 L854.6,727.1 L861.7,712.9 L876,702.2 L890.2,695.1 L900.8,684.4 L915.1,691.5 L915.1,702.2 L925.7,698.6 L932.8,691.5 L947,684.4 L961.3,677.3 L968,665 L975.5,660 L989.7,655 L1000,650 L1000,766.2 L989.7,759.1 L982.6,752 L975.5,759.1 L975.5,773.3 L968.4,787.5 L961.3,787.5 L957.7,773.3 L939.9,773.3 L925.7,766.2 L922.2,744.9 L918.6,730.6 L904.4,723.5 L897.3,727.1 L890.2,720 L883.1,727.1 L868.8,730.6 L865.3,737.8 L858.2,744.9Z" fill="#ff9a20"/>
<path d="M691.1,695.1 L694.7,684.4 L708.9,670.2 L723.1,656 L740.9,641.8 L748,634.7 L762.2,620.4 L765.8,602.7 L769.3,595.5 L772.9,613.3 L783.5,620.4 L785.3,624 L776.4,627.5 L762.2,638.2 L751.5,645.3 L740.9,656 L726.6,670.2 L712.4,680.9 L698.2,691.5 L692.9,696.9Z" fill="#ff9a20"/>
<path d="M780.8,563.3 L786,566 L792,570 L797,578 L792,581.9 L786,576 L781,570Z" fill="#ff9a20"/>
<path d="M778.5,421.9 C779.3,420.4 781.2,420 783.1,421.9 C785,423.8 789.7,428.8 790.1,433.4 C790.5,438 785.5,444.6 785.5,449.6 C785.5,454.6 788.2,458.9 790.1,463.5 C792,468.1 794.7,474.3 797,477.4 C799.3,480.5 803.6,480.4 804,482 C804.4,483.6 801.3,487.5 799.4,486.7 C797.5,485.9 794.3,481.3 792.4,477.4 C790.5,473.5 789.3,468.1 787.8,463.5 C786.2,458.9 784.6,455 783.1,449.6 C781.6,444.2 779.3,435.7 778.5,431.1 C777.7,426.5 777.7,423.4 778.5,421.9Z" fill="#ff6814" stroke="#fff" stroke-opacity="0.55" stroke-width="0.8"/>
<path d="M908.1,623.5 C910.8,618.1 915.1,612.7 917.4,609.6 C919.7,606.5 921.2,603.5 922,605 C922.8,606.5 922.8,614.3 922,618.9 C921.2,623.5 919.3,628.2 917.4,632.8 C915.5,637.4 912.8,642.5 910.5,646.7 C908.2,650.9 905.4,656.7 903.5,658.2 C901.6,659.7 899.3,658.6 898.9,655.9 C898.5,653.2 899.7,647.4 901.2,642 C902.7,636.6 905.4,628.9 908.1,623.5Z" fill="#ff6814" stroke="#fff" stroke-opacity="0.55" stroke-width="0.8"/>
<path d="M912.8,646.7 C913.6,644.4 918.9,641.6 922,639.7 C925.1,637.8 928.2,635.5 931.3,635.1 C934.4,634.7 939.5,634.7 940.6,637.4 C941.8,640.1 940.5,648.6 938.2,651.3 C935.9,654 930.2,653.2 926.7,653.6 C923.2,654 919.7,654.8 917.4,653.6 C915.1,652.5 912,649 912.8,646.7Z" fill="#ff6814" stroke="#fff" stroke-opacity="0.55" stroke-width="0.8"/>
<path d="M894.3,554.1 C895.8,551 898.9,555.2 901.2,556.4 C903.5,557.5 905.4,559.1 908.1,561 C910.8,562.9 915.1,564.9 917.4,568 C919.7,571.1 922,578 922,579.5 C922,581 919.7,578.4 917.4,577.2 C915.1,576.1 911.2,573.8 908.1,572.6 C905,571.5 901.6,569.9 898.9,570.3 C896.2,570.7 892.7,577.6 891.9,574.9 C891.1,572.2 892.8,557.2 894.3,554.1Z" fill="#ff6814" stroke="#fff" stroke-opacity="0.55" stroke-width="0.8"/>
<path d="M848,521.7 C848.8,520 853.2,519 854.9,519.4 C856.6,519.8 858.2,522.3 858.4,524 C858.6,525.7 857.5,528.8 856.1,529.8 C854.8,530.8 851.6,531.1 850.3,529.8 C848.9,528.4 847.2,523.4 848,521.7Z" fill="#ff6814" stroke="#fff" stroke-opacity="0.55" stroke-width="0.8"/>
<path d="M924.4,505.5 C925.4,504.1 927.5,501.6 929,502 C930.5,502.4 932.6,505.7 933.6,507.8 C934.6,509.9 935.2,512.8 934.8,514.7 C934.4,516.6 932.8,519 931.3,519.4 C929.8,519.8 926.9,518.5 925.5,517 C924.1,515.5 923.4,512 923.2,510.1 C923,508.2 923.4,506.9 924.4,505.5Z" fill="#ff6814" stroke="#fff" stroke-opacity="0.55" stroke-width="0.8"/>
<path d="M691.1,695.1 C691.4,693 691.7,688.5 694.7,684.4 C697.7,680.2 704.2,674.9 708.9,670.2 C713.6,665.5 717.8,660.7 723.1,656 C728.4,651.3 736.8,645.3 740.9,641.8 C745,638.2 744.5,638.3 748,634.7 C751.5,631.1 759.2,625.7 762.2,620.4 C765.2,615.1 764.6,606.9 765.8,602.7 C767,598.6 768.1,593.7 769.3,595.5 C770.5,597.3 770.5,609.1 772.9,613.3 C775.3,617.4 781.4,618.6 783.5,620.4 C785.6,622.2 786.5,622.8 785.3,624 C784.1,625.2 780.2,625.1 776.4,627.5 C772.5,629.9 766.4,635.2 762.2,638.2 C758.1,641.2 755,642.3 751.5,645.3 C748,648.3 745,651.9 740.9,656 C736.8,660.1 731.4,666.1 726.6,670.2 C721.9,674.4 717.1,677.4 712.4,680.9 C707.7,684.4 701.5,688.8 698.2,691.5 C695,694.2 694.1,696.3 692.9,696.9 C691.7,697.5 690.8,697.2 691.1,695.1Z" fill="#ff6814" stroke="#fff" stroke-opacity="0.55" stroke-width="0.8"/>
<path d="M866,512 C867.3,513.3 874.7,515.3 880,518 C885.3,520.7 892.7,524.3 898,528 C903.3,531.7 908,536 912,540 C916,544 919.3,549.3 922,552 C924.7,554.7 926.7,559.7 928,556 C929.3,552.3 931.2,535.3 930,530 C928.8,524.7 925.2,523.3 921,524 C916.8,524.7 910.2,534.2 905,534 C899.8,533.8 895.5,527 890,523 C884.5,519 876,511.8 872,510 C868,508.2 864.7,510.7 866,512Z" fill="#ff6814" stroke="#fff" stroke-opacity="0.55" stroke-width="0.8"/>
<path d="M933,586 C934,584.3 938.5,585.7 940,588 C941.5,590.3 941.2,595.5 942,600 C942.8,604.5 944,610 945,615 C946,620 946.8,625.8 948,630 C949.2,634.2 952.5,638.3 952,640 C951.5,641.7 947.3,644.2 945,640 C942.7,635.8 939.8,622 938,615 C936.2,608 934.8,602.8 934,598 C933.2,593.2 932,587.7 933,586Z" fill="#ff6814" stroke="#fff" stroke-opacity="0.55" stroke-width="0.8"/>
<path d="M850,614 C849.5,616.5 853,624.3 855,625 C857,625.7 861.5,620.5 862,618 C862.5,615.5 860,610.7 858,610 C856,609.3 850.5,611.5 850,614Z" fill="#ff6814" stroke="#fff" stroke-opacity="0.55" stroke-width="0.8"/>
<path d="M866,646 C866.3,645 871.7,649 874,652 C876.3,655 877.5,660.5 880,664 C882.5,667.5 888.3,672.3 889,673 C889.7,673.7 886.8,670.5 884,668 C881.2,665.5 875,661.7 872,658 C869,654.3 865.7,647 866,646Z" fill="#ff6814" stroke="#fff" stroke-opacity="0.55" stroke-width="0.8"/>
<path d="M804,377.9 C805.1,372.1 806.3,363.6 808.6,359.4 C810.9,355.1 814.4,353.6 817.9,352.4 C821.4,351.2 825.5,351.6 829.4,352.4 C833.2,353.2 837.5,354.7 841,357 C844.5,359.3 847.6,361.7 850.3,366.3 C853,370.9 856.1,379 857.2,384.8 C858.4,390.6 858,395.2 857.2,401 C856.4,406.8 854.5,414.5 852.6,419.5 C850.7,424.5 848.7,427.6 845.6,431.1 C842.5,434.6 838,438.1 834.1,440.4 C830.2,442.7 826.4,445 822.5,445 C818.6,445 814,443.1 810.9,440.4 C807.8,437.7 805.5,433.4 804,428.8 C802.5,424.2 802.1,418.4 801.7,412.6 C801.3,406.8 801.3,399.9 801.7,394.1 C802.1,388.3 802.9,383.7 804,377.9Z" fill="#ffcc18" stroke="#fff" stroke-opacity="0.55" stroke-width="0.8"/>
<path d="M808.6,408 C808.4,402.6 808.6,394.8 809.8,389.4 C811,384 813.1,378.9 815.6,375.6 C818.1,372.3 822.1,370.2 824.8,369.8 C827.5,369.4 830.1,370.7 831.8,373.2 C833.5,375.7 834.8,379.8 835.2,384.8 C835.6,389.8 834.7,397.1 834.1,403.3 C833.5,409.5 833,417.3 831.8,421.9 C830.6,426.5 829.4,429.6 827.1,431.1 C824.8,432.6 820.6,432.6 817.9,431.1 C815.2,429.6 812.4,425.8 810.9,421.9 C809.4,418 808.8,413.4 808.6,408Z" fill="#ffff18" stroke="#fff" stroke-opacity="0.55" stroke-width="0.8"/>
<ellipse cx="822" cy="539" rx="3.5" ry="6" transform="rotate(-10 822 539)" fill="#ffcc18" stroke="#fff" stroke-opacity="0.55" stroke-width="0.8"/>
<path d="M918.6,709.3 C919.8,703.4 926.9,699.2 932.8,695.1 C938.7,691 947.1,688 954.2,684.4 C961.3,680.8 967.9,677.2 975.5,673.8 C983.1,670.4 995.9,652.1 1000,664 C1004.1,675.9 1004.1,731.4 1000,744.9 C995.9,758.4 980.2,742.5 975.5,744.9 C970.8,747.3 974.9,754.4 971.9,759.1 C968.9,763.8 963,771.5 957.7,773.3 C952.4,775.1 944.6,773.2 939.9,769.7 C935.2,766.2 931.7,758.5 929.3,752 C926.9,745.5 927.5,737.7 925.7,730.6 C923.9,723.5 917.4,715.2 918.6,709.3Z" fill="#ffcc18" stroke="#fff" stroke-opacity="0.55" stroke-width="0.8"/>
<path d="M889.8,702.2 C891.3,699.8 897.2,696.9 900.8,696.9 C904.4,696.9 910.9,699.8 911.5,702.2 C912.1,704.6 907.6,709.6 904.4,711.1 C901.1,712.6 894.4,712.6 892,711.1 C889.6,709.6 888.3,704.6 889.8,702.2Z" fill="#ffcc18" stroke="#fff" stroke-opacity="0.55" stroke-width="0.8"/>
<path d="M929.3,709.3 C931.7,705.1 941.7,698.4 947,695.1 C952.3,691.9 957.1,689.2 961.3,689.8 C965.4,690.4 970.1,694.2 971.9,698.6 C973.7,703 973.7,712 971.9,716.4 C970.1,720.8 965.4,723.8 961.3,725.3 C957.1,726.8 951.8,726.2 947,725.3 C942.2,724.4 935.8,722.7 932.8,720 C929.8,717.3 926.9,713.4 929.3,709.3Z" fill="#ffff18" stroke="#fff" stroke-opacity="0.55" stroke-width="0.8"/>
<ellipse cx="947" cy="711" rx="5" ry="2.5" transform="rotate(-20 947 711)" fill="#66ff00" stroke="#fff" stroke-opacity="0.55" stroke-width="0.8"/>
</g>
<path d="M822.5,489 L829.4,484.6 L836,489.5 L834.1,497 L829,499 L824,496Z" fill="#fff" stroke="#000" stroke-width="0.9"/>
<g clip-path="url(#cl_bo)">
<path d="M582.3,842 L582.3,840 L586.5,822.9 L600,816 L619.4,808.5 L631.7,798.2 L637.9,790 L648.2,781.7 L656.4,769.4 L668.8,757 L672,750 L677,742.6 L681.1,740.6 L683,746 L685.2,750.9 L687,745 L689.4,742.7 L693.5,742.6 L697.6,748.8 L705.8,757 L709.9,769.4 L705.8,777.6 L712,776 L718.2,775.6 L726.4,781.7 L738.8,787.9 L755.2,796.1 L761.4,800.3 L759.3,804.4 L738.8,810.6 L726.4,812.6 L730.5,818.8 L738.8,822.9 L742.9,827 L734.6,831.1 L718.2,833.2 L709.9,835.3 L714,842Z" fill="#ff9a20"/>
<path d="M734.6,787.9 C738.5,786.2 750.5,794 755.2,796.1 C759.9,798.2 763,798.6 763,800.3 C763,802 759.2,804.7 755.2,806.4 C751.2,808.1 742.7,810.6 738.8,810.6 C734.9,810.6 732.7,810.2 732,806.4 C731.3,802.6 730.7,789.6 734.6,787.9Z" fill="#ff6814" stroke="#fff" stroke-opacity="0.55" stroke-width="0.8"/>
<path d="M672.9,757 C672.7,754.2 675.6,742.7 677,740 C678.4,737.3 680.3,738.9 681.1,740.6 C681.9,742.3 682.5,747.3 682,750 C681.5,752.7 679.5,755.8 678,757 C676.5,758.2 673.1,759.8 672.9,757Z" fill="#ff6814" stroke="#fff" stroke-opacity="0.55" stroke-width="0.8"/>
<path d="M600.9,845 C581.3,844.2 595.8,846.4 600.9,840 C606,833.6 622.5,816.1 631.7,806.4 C641,796.7 649.5,788.6 656.4,781.7 C663.3,774.9 668.1,768.7 672.9,765.3 C677.7,761.9 681.8,761.2 685.2,761.2 C688.6,761.2 690.8,761.9 693.5,765.3 C696.2,768.7 699,774.9 701.7,781.7 C704.4,788.6 707.9,798.9 709.9,806.4 C711.9,813.9 712.6,820.6 714,827 C715.4,833.4 737.1,842 718.2,845 C699.4,848 620.5,845.8 600.9,845Z" fill="#ffcc18" stroke="#fff" stroke-opacity="0.55" stroke-width="0.8"/>
<path d="M617.3,845 C603.2,844.2 613.9,845.4 617.3,840 C620.7,834.6 631.4,821.3 637.9,812.6 C644.4,803.9 651.2,794.1 656.4,787.9 C661.5,781.7 665.4,778.2 668.8,775.6 C672.2,773 674.6,772.2 677,772.5 C679.4,772.8 682.2,773.3 683.2,777.6 C684.2,781.9 682.2,792 683.2,798.2 C684.2,804.4 687,809.9 689.4,814.7 C691.8,819.5 695.5,822 697.6,827 C699.7,832 715.1,842 701.7,845 C688.3,848 631.4,845.8 617.3,845Z" fill="#ffff18" stroke="#fff" stroke-opacity="0.55" stroke-width="0.8"/>
<path d="M631.7,845 C627.6,842 633.8,831.4 635.9,827 C638,822.6 641.4,820.2 644.1,818.8 C646.8,817.4 649.9,817.4 652.3,818.8 C654.7,820.2 657.1,822.6 658.5,827 C659.9,831.4 665.1,842 660.6,845 C656.1,848 635.8,848 631.7,845Z" fill="#66ff00" stroke="#fff" stroke-opacity="0.55" stroke-width="0.8"/>
</g>
<path d="M238.9,530.8 L245.8,530.8 L252.8,537.8 L261.1,543.3 L265.3,548.9 L263.9,553.1 L258.3,551.7 L252.8,546.1 L245.8,543.3 L240.3,537.8Z" fill="#fff" stroke="#000" stroke-width="1"/>
<path d="M834,197.5 L836,198 L835.5,200Z" fill="#ff6814" stroke="#000" stroke-width="0.8"/>
<path d="M836.5,220 L839.5,221 L838,223Z" fill="#ff6814" stroke="#000" stroke-width="0.8"/>
<path d="M846,266.5 L848.5,267 L847,270Z" fill="#ff6814" stroke="#000" stroke-width="0.8"/>
<path d="M850,280 L853,280.5 L851,283Z" fill="#ff6814" stroke="#000" stroke-width="0.8"/>
<path d="M850.5,309 L853,309.5 L851.5,312Z" fill="#ff6814" stroke="#000" stroke-width="0.8"/>
<path d="M780.8,563.3 L786,566 L792,570 L797,578 L792,581.9 L786,576 L781,570Z" fill="#ff6814" stroke="#000" stroke-width="0.8"/>
<path d="M864.2,550 L868,549 L871.1,553 L868,556.4 L865,555Z" fill="#ff6814" stroke="#000" stroke-width="0.8"/>
<path d="M885,534 L890,536 L898.9,546 L893,547 L887,541Z" fill="#ff6814" stroke="#000" stroke-width="0.8"/>
<path d="M908.1,550 L911,552 L912.8,560 L909.5,558Z" fill="#ff6814" stroke="#000" stroke-width="0.8"/>
<path d="M848,538.5 L851,537.9 L852.6,543 L849.5,544.8Z" fill="#ff6814" stroke="#000" stroke-width="0.8"/>
<path d="M833,571.5 L836,571 L836.5,574 L833.5,574.5Z" fill="#ff6814" stroke="#000" stroke-width="0.8"/>
<path d="M922,600.4 L925,601 L926.7,605 L923,605Z" fill="#ff6814" stroke="#000" stroke-width="0.8"/>
<path d="M772,590 L775,588 L777,592 L774,594Z" fill="#ff6814" stroke="#000" stroke-width="0.8"/>
<path d="M765,600 L768,598 L769,603 L766,604Z" fill="#ff6814" stroke="#000" stroke-width="0.8"/>
<path d="M878,612 L881,611 L882,615 L879,616Z" fill="#ff6814" stroke="#000" stroke-width="0.8"/>
<path d="M930,640 L933,641 L932,645 L929,644Z" fill="#ff6814" stroke="#000" stroke-width="0.8"/>
<path d="M846,760 L849,759 L850,763 L847,764Z" fill="#ff6814" stroke="#000" stroke-width="0.8"/>
<path d="M835,768 L838,767 L839,770 L836,771Z" fill="#ff6814" stroke="#000" stroke-width="0.8"/>
<path d="M955,560 L958,559 L959,563 L956,564Z" fill="#ff6814" stroke="#000" stroke-width="0.8"/>
<path d="M980,620 L983,619 L984,624 L981,625Z" fill="#ff6814" stroke="#000" stroke-width="0.8"/>
<path d="M990,640 L993,639 L994,645 L991,645Z" fill="#ff6814" stroke="#000" stroke-width="0.8"/>
<path d="M768,163 L772,162 L775,166 L770,167Z" fill="#ff6814" stroke="#000" stroke-width="0.8"/>
<path d="M908.5,137 L914,134.5 L920.6,139 L916,141.3 L910,141Z" fill="#ff6814" stroke="#000" stroke-width="0.8"/>
<path d="M923,136 L929,131 L931,126 L930,134 L926,138Z" fill="#ff6814" stroke="#000" stroke-width="0.8"/>
<path d="M959.7,119.5 L966,118 L970.2,123 L965,124.7Z" fill="#ff6814" stroke="#000" stroke-width="0.8"/>
<path d="M884,134 L889,134.6 L886,136Z" fill="#ff6814" stroke="#000" stroke-width="0.8"/>
<path d="M827,323.5 L832,326 L836.4,333.9 L830,331Z" fill="#ff6814" stroke="#000" stroke-width="0.8"/>
<path d="M847,330 L851,332 L849,336Z" fill="#ff6814" stroke="#000" stroke-width="0.8"/>
<path d="M857.2,346 L862,345.5 L865.3,352 L862,359.4 L858,355Z" fill="#ff6814" stroke="#000" stroke-width="0.8"/>
<path d="M776.4,805.3 L785,800 L797.7,798.2 L792,803 L780,807Z" fill="#ff6814" stroke="#000" stroke-width="0.8"/>
<path d="M815.5,773.3 L825,772 L836.8,776.9 L826,778 L818,777Z" fill="#ff6814" stroke="#000" stroke-width="0.8"/>
<path d="M847.5,752 L858,751 L865.3,755 L857,759.1 L850,757Z" fill="#ff6814" stroke="#000" stroke-width="0.8"/>
<path d="M840,773 L846,772 L848,775 L842,775.5Z" fill="#ff6814" stroke="#000" stroke-width="0.8"/>
<path d="M744,812 L750,810 L752,814 L746,815Z" fill="#ff6814" stroke="#000" stroke-width="0.8"/>
<path d="M722,705 L728,703 L730,707 L724,709Z" fill="#ff6814" stroke="#000" stroke-width="0.8"/>
<path d="M46,533 L50,537 L47,540 L44,537Z" fill="#ff6814" stroke="#000" stroke-width="0.8"/>
<path d="M52,548 L56,546 L57,552 L53,553Z" fill="#ff6814" stroke="#000" stroke-width="0.8"/>
<path d="M47,560 L50,558 L51,565 L48,566Z" fill="#ff6814" stroke="#000" stroke-width="0.8"/>
<path d="M58,575 L62,573 L63,580 L59,581Z" fill="#ff6814" stroke="#000" stroke-width="0.8"/>
<path d="M50,585 L54,584 L55,590 L51,590Z" fill="#ff6814" stroke="#000" stroke-width="0.8"/>
<path d="M60,600 L64,598 L65,604 L61,606Z" fill="#ff6814" stroke="#000" stroke-width="0.8"/>
<path d="M52,612 L56,610 L57,616 L53,617Z" fill="#ff6814" stroke="#000" stroke-width="0.8"/>
<path d="M62,624 L66,622 L67,628 L63,630Z" fill="#ff6814" stroke="#000" stroke-width="0.8"/>
<path d="M56,640 L60,639 L61,645 L57,646Z" fill="#ff6814" stroke="#000" stroke-width="0.8"/>
<path d="M46,620 L49,618 L50,624 L47,625Z" fill="#ff6814" stroke="#000" stroke-width="0.8"/>
<path d="M64,655 L67,653 L68,659 L65,660Z" fill="#ff6814" stroke="#000" stroke-width="0.8"/>
<path d="M50,658 L53,656 L54,662 L51,663Z" fill="#ff6814" stroke="#000" stroke-width="0.8"/>
<g fill="none" stroke="#000" stroke-width="1" stroke-linejoin="round">
<path d="M36,34 L796,34 L793.8,40.3 L789.9,45.5 L787.8,51 L785.1,55.7 L783.4,60.7 L780,65.6 L774.2,70.7 L781.4,74.5 L776.6,79.9 L780,84.1 L778.8,89 L779.2,92.2 L775.6,95.2 L771,96.5 L771.1,103.5 L765,106.8 L758.8,108.1 L753.3,110.9 L748.9,115.7 L744.8,120.8 L742.2,127.4 L735.8,130.4 L731.8,134.6 L728,139.2 L722.9,142.1 L716.9,144 L711.7,148.1 L710.3,156.7 L704.4,158.3 L700.3,163.4 L694.4,163.2 L689.4,164.7 L685.2,167.8 L680.2,172.1 L676.7,178.2 L673.6,182.3 L669.9,185.6 L664.9,187.5 L657.9,188.8 L653.1,196 L648.2,194.9 L643,192.7 L639.5,199.2 L632.7,195.8 L627.8,202.5 L622.5,199.5 L617.9,200.6 L613.5,201.2 L607.6,203 L602.7,209.6 L595.6,204.6 L590,207 L584,212 L581.7,210 L579,203.4 L577.1,195.9 L574.1,191.1 L572.8,195 L572.3,199.4 L571.2,203.7 L574.2,207.7 L571.1,211.7 L570.9,217.9 L565.5,220.7 L562.9,220.5 L554.8,217.9 L550.7,220.8 L547.1,224.4 L543.9,228.7 L538.4,229.1 L534.5,231.4 L530,230.1 L525.1,232.1 L520,231.9 L514.8,231.3 L509.5,231.5 L504.5,233.9 L499.3,235.9 L494.3,239 L488.8,238.5 L483.7,240.3 L478.4,242.2 L474.3,245.6 L469.8,247.3 L467,250.7 L464.3,254.3 L460.2,256.9 L457.4,264.2 L462.2,270 L464.8,273.8 L468.5,279.3 L463.5,283.5 L457.8,284.5 L452.7,285.8 L447.7,284.4 L443.6,280.1 L444,273.9 L441.9,268.6 L436.6,262.7 L441.3,259.2 L441.9,255 L443.4,251.7 L445.9,245.7 L439.4,243.7 L435.6,240.8 L431.7,238.2 L426.6,240.1 L421.7,239.3 L415.8,238.9 L410.8,236.3 L400.4,230 L395.9,233.9 L390.3,235.5 L385.5,237.3 L381.3,240 L376.7,242.6 L372.3,245.4 L369.1,248.1 L365.5,249.6 L361.6,254.7 L359.2,258.9 L354.8,259 L349.3,262.5 L344,266.1 L341.9,270.6 L338.2,275.2 L334.5,281.9 L332.2,285.9 L328.5,288.5 L326,293.2 L322.2,296.7 L317,300.2 L316.1,304.3 L312.3,307 L311.9,311.3 L309.3,314.5 L307.5,326.2 L309.3,330.5 L310.5,335 L312.3,339.3 L313.5,343.8 L315.4,348 L316.8,352.5 L320.6,355.3 L324.6,357.7 L328.9,359.8 L332.6,363.1 L334.2,367.5 L336.9,371.1 L339.2,375 L342.1,378.4 L344.2,382.4 L347.7,385.5 L350.3,389.2 L352.5,393.1 L354.6,397.1 L356.9,401 L359.9,404.3 L362.5,407.6 L366,410.7 L369.2,414.3 L373.2,416.6 L376.8,419.8 L380.9,420.8 L384.5,423 L388,425.3 L392.3,427.1 L392.8,432.2 L395.2,436.9 L395.4,442.3 L398.9,445.5 L401.3,449.6 L404.3,453.1 L406.6,457.3 L409.3,460.5 L409.4,464.8 L411.3,468.4 L413.4,471.9 L414.3,475.9 L414.9,480.6 L415.7,485.3 L416.8,490 L417.9,494.6 L421.8,497.1 L425,500.1 L425.9,504.1 L427.2,508.1 L427.1,512.2 L427,516.2 L427.4,520.3 L427.6,524.3 L428,528.6 L428.3,533 L428.8,537.1 L431.8,542.1 L429.7,548.9 L426.8,555.1 L425,561.6 L425.3,566 L426.5,570.2 L427.8,575.1 L424.9,578 L422.1,581 L419.6,584.2 L417.4,587.5 L415.6,594 L410.7,597.2 L404.2,600.3 L401.1,603 L397.8,605.3 L393.1,608 L388.1,610.2 L383.1,612.5 L378.4,615.3 L373.7,617.4 L368.5,618.2 L364.6,620.9 L360.6,623.4 L356.5,624.9 L352.3,626.1 L348.4,628.2 L344.7,629.7 L342.9,635.9 L340.8,639.9 L338.1,643.4 L335.9,647.5 L332.1,651.2 L328.2,654.7 L324.6,658.6 L320.6,662.1 L317.4,666.5 L313.6,669.3 L309.2,671.3 L305.6,674.3 L301.9,677.2 L298.1,678.9 L294.4,680.8 L290.7,682.6 L287,684.5 L281.4,684.7 L274.5,684.5 L276.6,679.7 L276.8,674.6 L277.6,669.7 L275.7,647.2 L272,632.3 L268.3,624.8 L264.5,628.5 L249.5,632.3 L242.1,621 L234.6,609.8 L223.3,609.8 L215.9,602.3 L204.6,587.4 L197.2,572.4 L189.7,557.4 L184.4,557.8 L170.6,552.2 L156.7,552.2 L145.6,549.4 L145.6,535.6 L148.3,521.7 L134.4,518.9 L123.3,521.7 L115,524.4 L117.8,535.6 L117.5,551 L110.4,570 L103,595.6 L93,615 L88.1,632.6 L87.5,650 L88.1,662.2 L95.6,677 L110.4,684.4 L117.8,699.3 L128.9,721.5 L140,747.4 L152.3,746.4 L180,760 L187.8,767 L204.6,781.9 L215.9,796.9 L227.1,815.6 L234.6,842 L100,842 L96,746 L75,742 L69.6,736.3 L62.2,717.8 L58.5,699.3 L60.4,680.7 L65,662 L69.6,647.4 L73.3,625.2 L77,606.7 L75.2,588.1 L72.5,570 L71.3,551.1 L68.6,537.2 L63,523.3 L56.1,512.2 L50.5,498.3 L46.3,484.4 L40.8,474.7 L36,474Z"/>
<path d="M404.6,321.7 L408.8,313.3 L417.1,309.2 L425.4,300.8 L435.8,296.7 L448.3,294.6 L460.8,292.5 L471.3,290.4 L477.5,294.6 L485.8,305 L479.6,311.3 L475.4,313.3 L471.3,325.8 L467.1,338.3 L456.7,346.7 L444.2,352.9 L431.7,355 L419.2,352.9 L408.8,346.7 L405.6,334.2Z"/>
<path d="M836.3,105.1 L842.3,103.6 L845.3,109.7 L852.9,112.7 L849.8,118.7 L848.3,132.2 L845.3,144.3 L840.8,159.3 L836.3,174.4 L830.3,186.4 L824.3,198.4 L819.7,210.5 L816.7,216.5 L815.2,225.5 L810.7,225.5 L809.2,216.5 L800.2,207.5 L794.2,195.4 L791.2,180.4 L792.7,165.3 L797.3,154.8 L804.8,142.8 L810.8,130.8 L816.8,121.8 L822.8,111.3 L829,107Z"/>
<path d="M582.3,842 L582.3,840 L586.5,822.9 L600,816 L619.4,808.5 L631.7,798.2 L637.9,790 L648.2,781.7 L656.4,769.4 L668.8,757 L672,750 L677,742.6 L681.1,740.6 L683,746 L685.2,750.9 L687,745 L689.4,742.7 L693.5,742.6 L697.6,748.8 L705.8,757 L709.9,769.4 L705.8,777.6 L712,776 L718.2,775.6 L726.4,781.7 L738.8,787.9 L755.2,796.1 L761.4,800.3 L759.3,804.4 L738.8,810.6 L726.4,812.6 L730.5,818.8 L738.8,822.9 L742.9,827 L734.6,831.1 L718.2,833.2 L709.9,835.3 L714,842Z"/>
<path d="M807.5,346.6 L815.6,343.1 L824.8,345.5 L836.4,347.8 L843.3,354.7 L854.9,354.7 L859.5,347.8 L864.2,352.4 L861.9,361.7 L859.5,377.9 L866.5,389.4 L871.1,396.4 L866.5,408 L861.9,421.9 L854.9,433.4 L852.6,435.7 L843.3,440.4 L838.7,445 L836.4,458.9 L841,468.1 L845.6,477.4 L848,486.7 L850.3,495.9 L857.2,505.2 L861.9,509.8 L866.5,505.2 L871.1,517 L875.7,526.3 L873.4,533.2 L866.5,526.3 L857.2,517 L845.6,510.1 L834.1,512.4 L824.8,517 L815.6,514.7 L808.6,510.1 L806.3,496.2 L813.2,489.3 L806.3,489 L799.4,486.7 L792.4,477.4 L787.8,463.5 L783.1,449.6 L778.5,431.1 L783.1,421.9 L794.7,433.4 L801.7,431.1 L797,412.6 L801.7,394.1 L799.4,377.9 L801.7,361.7Z"/>
<path d="M864.2,498.5 L875.7,493.9 L885,496.2 L889.6,503.1 L896.6,505.5 L903.5,507.8 L912.8,510.1 L919.7,514.7 L922,526.3 L926.7,530.9 L926.7,544.8 L924.4,554.1 L919.7,549.4 L915.1,540.2 L903.5,535.6 L898.9,526.3 L889.6,521.7 L880.4,514.7 L871.1,507.8 L866.5,503.1Z"/>
<path d="M924.4,505.5 L929,502 L933.6,507.8 L934.8,514.7 L931.3,519.4 L925.5,517 L923.2,510.1Z"/>
<path d="M797,522.8 L806.3,521.7 L820.2,522.8 L829.4,526.3 L836.4,533.2 L838.7,544.8 L834.1,556.4 L831.8,563.3 L824.8,563.3 L817.9,554.1 L813.2,544.8 L808.6,530.9 L801.7,526.3Z"/>
<path d="M848,521.7 L854.9,519.4 L858.4,524 L856.1,529.8 L850.3,529.8Z"/>
<path d="M931.3,554.1 L942.9,556.4 L952.1,551.8 L961.4,556.4 L968.3,565.6 L970.6,577.2 L973,591.1 L975.3,600.4 L968.3,602.7 L961.4,595.7 L954.4,586.5 L947.5,581.9 L942.9,572.6 L935.9,568 L932.4,561Z"/>
<path d="M933.6,584.2 L940.6,586.5 L942.9,593.4 L952.1,593.4 L954.4,602.7 L956.8,618.9 L961.4,628.1 L959.1,637.4 L952.1,639.7 L947.5,630.5 L942.9,618.9 L938.2,609.6 L934.8,598.1Z"/>
<path d="M850.3,577.2 L861.9,577.2 L871.1,586.5 L882.7,588.8 L891.9,586.5 L893.1,595.7 L887.3,605 L878.1,609.6 L871.1,614.3 L861.9,618.9 L852.6,623.5 L851.4,614.3 L852.6,595.7Z"/>
<path d="M889.6,609.6 L901.2,607.3 L905.8,614.3 L901.2,623.5 L894.3,637.4 L891.9,651.3 L894.3,665.2 L889.6,672.1 L882.7,665.2 L873.4,655.9 L866.5,644.4 L873.4,639.7 L882.7,637.4 L885,623.5Z"/>
<path d="M908.1,623.5 L917.4,609.6 L922,605 L922,618.9 L917.4,632.8 L910.5,646.7 L903.5,658.2 L898.9,655.9 L901.2,642Z"/>
<path d="M912.8,646.7 L922,639.7 L931.3,635.1 L940.6,637.4 L938.2,651.3 L926.7,653.6 L917.4,653.6Z"/>
<path d="M894.3,554.1 L901.2,556.4 L908.1,561 L917.4,568 L922,579.5 L917.4,577.2 L908.1,572.6 L898.9,570.3 L891.9,574.9Z"/>
<path d="M851.1,741.3 L854.6,727.1 L861.7,712.9 L876,702.2 L890.2,695.1 L900.8,684.4 L915.1,691.5 L915.1,702.2 L925.7,698.6 L932.8,691.5 L947,684.4 L961.3,677.3 L968,665 L975.5,660 L989.7,655 L1000,650 L1000,766.2 L989.7,759.1 L982.6,752 L975.5,759.1 L975.5,773.3 L968.4,787.5 L961.3,787.5 L957.7,773.3 L939.9,773.3 L925.7,766.2 L922.2,744.9 L918.6,730.6 L904.4,723.5 L897.3,727.1 L890.2,720 L883.1,727.1 L868.8,730.6 L865.3,737.8 L858.2,744.9Z"/>
<path d="M691.1,695.1 L694.7,684.4 L708.9,670.2 L723.1,656 L740.9,641.8 L748,634.7 L762.2,620.4 L765.8,602.7 L769.3,595.5 L772.9,613.3 L783.5,620.4 L785.3,624 L776.4,627.5 L762.2,638.2 L751.5,645.3 L740.9,656 L726.6,670.2 L712.4,680.9 L698.2,691.5 L692.9,696.9Z"/>
<path d="M780.8,563.3 L786,566 L792,570 L797,578 L792,581.9 L786,576 L781,570Z"/>
<path d="M203,113 L207.5,117.5 L203.5,122.5Z" fill="#fff"/>
<path d="M211,130 L214.5,131 L212,137.5Z" fill="#fff"/>
<path d="M501,711 L505,709.5 L509.8,716 L508,724 L503,725 L500.5,718Z" fill="#fff"/>
<path d="M586,722 L592,716 L600,711 L602.6,713 L596,719 L588,723.5Z" fill="#fff"/>
<path d="M447,709 L451,707.5 L453,712 L449,715Z" fill="#fff"/>
<path d="M430,723 L436,720 L440,722 L433,727Z" fill="#fff"/>
<path d="M464,702 L469,701 L470,705 L465,705Z" fill="#fff"/>
<path d="M607,702 L612,701 L613,704 L608,704Z" fill="#fff"/>
<path d="M527,402 L531,401 L532,405 L528,406Z" fill="#fff"/>
<path d="M519,416 L524,415 L526,418 L520,419Z" fill="#fff"/>
</g>
<path d="M790.9,49.2 L791.8,52.8 L788.5,51.3Z" fill="#ffcc18" stroke="#000" stroke-width="0.8" stroke-linejoin="round"/>
<path d="M785.7,55.3 L787.2,57.8 L784.3,57.7Z" fill="#ffcc18" stroke="#000" stroke-width="0.8" stroke-linejoin="round"/>
<path d="M781.2,62.8 L783.8,68.5 L778.6,64.9Z" fill="#ffcc18" stroke="#000" stroke-width="0.8" stroke-linejoin="round"/>
<path d="M777.2,69 L780,71.5 L776.3,70.6Z" fill="#ffcc18" stroke="#000" stroke-width="0.8" stroke-linejoin="round"/>
<path d="M775.9,74.3 L781.1,72 L778.2,76.9Z" fill="#ffcc18" stroke="#000" stroke-width="0.8" stroke-linejoin="round"/>
<path d="M778.2,85.3 L782,83.3 L779.2,86.6Z" fill="#ffcc18" stroke="#000" stroke-width="0.8" stroke-linejoin="round"/>
<path d="M752.3,113 L756.8,116.3 L751.1,116.2Z" fill="#ffcc18" stroke="#000" stroke-width="0.8" stroke-linejoin="round"/>
<path d="M746.5,119.5 L748.5,122.9 L744.9,121.2Z" fill="#ffcc18" stroke="#000" stroke-width="0.8" stroke-linejoin="round"/>
<path d="M743,124.1 L742.6,127.4 L739.8,125.7Z" fill="#ffcc18" stroke="#000" stroke-width="0.8" stroke-linejoin="round"/>
<path d="M738.2,128.8 L739.1,133.3 L736.3,129.7Z" fill="#ffcc18" stroke="#000" stroke-width="0.8" stroke-linejoin="round"/>
<path d="M728.8,136.9 L727.5,140.5 L726.5,136.8Z" fill="#ffcc18" stroke="#000" stroke-width="0.8" stroke-linejoin="round"/>
<path d="M724.4,140.2 L723.2,143.1 L721.3,140.6Z" fill="#ffcc18" stroke="#000" stroke-width="0.8" stroke-linejoin="round"/>
<path d="M692.6,163.1 L694.5,166.9 L690.5,165.6Z" fill="#ffcc18" stroke="#000" stroke-width="0.8" stroke-linejoin="round"/>
<path d="M689.3,166.1 L688.1,171.4 L686.7,166.2Z" fill="#ffcc18" stroke="#000" stroke-width="0.8" stroke-linejoin="round"/>
<path d="M683.2,169.2 L685.4,172.1 L682.1,170.7Z" fill="#ffcc18" stroke="#000" stroke-width="0.8" stroke-linejoin="round"/>
<path d="M681.8,172.3 L680.3,178 L678.7,172.4Z" fill="#ffcc18" stroke="#000" stroke-width="0.8" stroke-linejoin="round"/>
<path d="M677.2,175.5 L680.1,180.8 L675,177.5Z" fill="#ffcc18" stroke="#000" stroke-width="0.8" stroke-linejoin="round"/>
<path d="M623.3,198.9 L619.8,203.6 L621.7,198Z" fill="#ffcc18" stroke="#000" stroke-width="0.8" stroke-linejoin="round"/>
<path d="M619.9,198.8 L619.6,201.5 L618.1,199.2Z" fill="#ffcc18" stroke="#000" stroke-width="0.8" stroke-linejoin="round"/>
<path d="M607.6,201.9 L609.3,206.1 L605.6,203.5Z" fill="#ffcc18" stroke="#000" stroke-width="0.8" stroke-linejoin="round"/>
<path d="M603.9,203.5 L604.4,206.9 L601.4,205.2Z" fill="#ffcc18" stroke="#000" stroke-width="0.8" stroke-linejoin="round"/>
<path d="M571.3,197.6 L575.5,197.2 L572.3,199.9Z" fill="#ffcc18" stroke="#000" stroke-width="0.8" stroke-linejoin="round"/>
<path d="M571.5,200.6 L576.6,201.6 L571.7,203.2Z" fill="#ffcc18" stroke="#000" stroke-width="0.8" stroke-linejoin="round"/>
<path d="M572,207.4 L577.1,209.2 L571.8,210.3Z" fill="#ffcc18" stroke="#000" stroke-width="0.8" stroke-linejoin="round"/>
<path d="M557.2,219.7 L554.6,221.6 L554.4,218.4Z" fill="#ffcc18" stroke="#000" stroke-width="0.8" stroke-linejoin="round"/>
<path d="M547.9,223.8 L547,227.5 L545.9,223.9Z" fill="#ffcc18" stroke="#000" stroke-width="0.8" stroke-linejoin="round"/>
<path d="M545.2,225.1 L545.1,228.9 L542.2,226.4Z" fill="#ffcc18" stroke="#000" stroke-width="0.8" stroke-linejoin="round"/>
<path d="M540.5,227.1 L542.1,230.6 L538.4,229.5Z" fill="#ffcc18" stroke="#000" stroke-width="0.8" stroke-linejoin="round"/>
<path d="M535.6,230 L533.3,235 L532.3,229.6Z" fill="#ffcc18" stroke="#000" stroke-width="0.8" stroke-linejoin="round"/>
<path d="M507.3,232.5 L509.6,236.1 L505.4,235.2Z" fill="#ffcc18" stroke="#000" stroke-width="0.8" stroke-linejoin="round"/>
<path d="M475.1,243.8 L475.4,246.7 L473.3,244.7Z" fill="#ffcc18" stroke="#000" stroke-width="0.8" stroke-linejoin="round"/>
<path d="M467.9,250.1 L469.1,252.9 L466.4,251.4Z" fill="#ffcc18" stroke="#000" stroke-width="0.8" stroke-linejoin="round"/>
<path d="M462.8,256.2 L462.1,260.3 L460.3,256.5Z" fill="#ffcc18" stroke="#000" stroke-width="0.8" stroke-linejoin="round"/>
<path d="M440.9,243.1 L437.7,245.8 L439.6,242.1Z" fill="#ffcc18" stroke="#000" stroke-width="0.8" stroke-linejoin="round"/>
<path d="M434.6,239 L433.1,244.6 L431.6,239Z" fill="#ffcc18" stroke="#000" stroke-width="0.8" stroke-linejoin="round"/>
<path d="M427.4,239.6 L425.8,242.2 L424.8,239.3Z" fill="#ffcc18" stroke="#000" stroke-width="0.8" stroke-linejoin="round"/>
<path d="M787.9,42.4 L791.5,43.7 L788.6,46.1Z" fill="#fff" stroke="#000" stroke-width="0.7"/>
<path d="M780.6,59.1 L779.8,55.1 L783.7,56.4Z" fill="#fff" stroke="#000" stroke-width="0.7"/>
<path d="M778.1,67.4 L775.8,69.6 L775.1,66.5Z" fill="#fff" stroke="#000" stroke-width="0.7"/>
<path d="M771.7,97.3 L770.5,93.4 L774.4,94.3Z" fill="#fff" stroke="#000" stroke-width="0.7"/>
<path d="M742.8,119.1 L744.1,114.4 L747.5,118Z" fill="#fff" stroke="#000" stroke-width="0.7"/>
<path d="M740.8,123.9 L738.2,127.2 L736.7,123.2Z" fill="#fff" stroke="#000" stroke-width="0.7"/>
<path d="M726.9,132.8 L731.6,130.9 L730.9,136Z" fill="#fff" stroke="#000" stroke-width="0.7"/>
<path d="M714,143.9 L715.3,147.2 L711.7,146.7Z" fill="#fff" stroke="#000" stroke-width="0.7"/>
<path d="M708.4,149.5 L711.4,145.7 L713.1,150.2Z" fill="#fff" stroke="#000" stroke-width="0.7"/>
<path d="M701.6,153.2 L706,154.9 L702.3,157.9Z" fill="#fff" stroke="#000" stroke-width="0.7"/>
<path d="M695.2,160.5 L691.2,163.3 L690.8,158.4Z" fill="#fff" stroke="#000" stroke-width="0.7"/>
<path d="M656.6,185.5 L657.8,189.1 L654,188.3Z" fill="#fff" stroke="#000" stroke-width="0.7"/>
<path d="M645.7,192 L648.8,190.9 L648.2,194.1Z" fill="#fff" stroke="#000" stroke-width="0.7"/>
<path d="M640,194.9 L640.4,191.5 L643.1,193.6Z" fill="#fff" stroke="#000" stroke-width="0.7"/>
<path d="M616.8,196.8 L613.8,200.7 L612,196.2Z" fill="#fff" stroke="#000" stroke-width="0.7"/>
<path d="M603.9,200.4 L604.2,203.3 L601.6,202.2Z" fill="#fff" stroke="#000" stroke-width="0.7"/>
<path d="M792.1,45.2 L797,45 L794.3,48.1Z" fill="#ffcc18" stroke="#000" stroke-width="0.8"/>
<path d="M781.3,67.5 L783.6,71.1 L778.2,71.6Z" fill="#ffcc18" stroke="#000" stroke-width="0.8"/>
<path d="M779.3,79.5 L780.5,75.7 L782.6,78.7Z" fill="#ffcc18" stroke="#000" stroke-width="0.8"/>
<path d="M761.2,109 L761.8,113.6 L757.3,109.4Z" fill="#ffcc18" stroke="#000" stroke-width="0.8"/>
<path d="M750.6,120.8 L746.2,122.8 L746.5,118Z" fill="#ffcc18" stroke="#000" stroke-width="0.8"/>
<path d="M724.9,141.9 L727.5,142 L725.4,144Z" fill="#ffcc18" stroke="#000" stroke-width="0.8"/>
<path d="M717.6,152.9 L714.6,148.5 L720,148Z" fill="#ffcc18" stroke="#000" stroke-width="0.8"/>
<path d="M714.9,154.4 L713,151.9 L716.8,150.8Z" fill="#ffcc18" stroke="#000" stroke-width="0.8"/>
<path d="M704,161.3 L707.3,156.6 L708.3,162.1Z" fill="#ffcc18" stroke="#000" stroke-width="0.8"/>
<path d="M694.8,168.4 L692.5,164 L697.7,163.8Z" fill="#ffcc18" stroke="#000" stroke-width="0.8"/>
<path d="M671.3,180.9 L673.8,181.8 L672.4,183.6Z" fill="#ffcc18" stroke="#000" stroke-width="0.8"/>
<path d="M659,195.1 L658.4,191.8 L661.5,192.9Z" fill="#ffcc18" stroke="#000" stroke-width="0.8"/>
<path d="M649.5,196.6 L649.4,198.8 L646.8,198.1Z" fill="#ffcc18" stroke="#000" stroke-width="0.8"/>
<path d="M643.6,199.2 L641.4,199.6 L642.3,197.8Z" fill="#ffcc18" stroke="#000" stroke-width="0.8"/>
<path d="M633.1,200.7 L629.7,200.2 L631.7,197Z" fill="#ffcc18" stroke="#000" stroke-width="0.8"/>
<path d="M612.5,204.3 L614.5,200.3 L617,203.5Z" fill="#ffcc18" stroke="#000" stroke-width="0.8"/>
<path d="M570.5,204.6 L572.5,209.2 L567.6,208.7Z" fill="#fff" stroke="#000" stroke-width="0.7"/>
<path d="M571.6,212.2 L569,213.6 L569.1,210.7Z" fill="#fff" stroke="#000" stroke-width="0.7"/>
<path d="M557.2,214.9 L558.5,217.2 L555.9,217.2Z" fill="#fff" stroke="#000" stroke-width="0.7"/>
<path d="M552.5,219.3 L550,219.8 L550.8,217.3Z" fill="#fff" stroke="#000" stroke-width="0.7"/>
<path d="M549.5,219.9 L546.3,223.8 L544.6,219.1Z" fill="#fff" stroke="#000" stroke-width="0.7"/>
<path d="M533.2,230.2 L530.3,228.3 L533.4,226.8Z" fill="#fff" stroke="#000" stroke-width="0.7"/>
<path d="M497.5,236.7 L496.5,234.1 L499.3,234.5Z" fill="#fff" stroke="#000" stroke-width="0.7"/>
<path d="M453.9,281.1 L457.5,282 L454.9,284.7Z" fill="#fff" stroke="#000" stroke-width="0.7"/>
<path d="M447.2,277.6 L444.4,275.6 L447.5,274.2Z" fill="#fff" stroke="#000" stroke-width="0.7"/>
<path d="M447.3,269.8 L443.9,270.8 L444.7,267.4Z" fill="#fff" stroke="#000" stroke-width="0.7"/>
<path d="M445.7,259 L441.9,262.3 L440.9,257.3Z" fill="#fff" stroke="#000" stroke-width="0.7"/>
<path d="M445.3,251.4 L442.7,253.6 L442.2,250.3Z" fill="#fff" stroke="#000" stroke-width="0.7"/>
<path d="M422.2,235.5 L424.4,239 L420.2,239.1Z" fill="#fff" stroke="#000" stroke-width="0.7"/>
<path d="M416,233.5 L414.3,238.2 L411.1,234.4Z" fill="#fff" stroke="#000" stroke-width="0.7"/>
<path d="M578.1,205.5 L577.3,209.6 L574.3,206.9Z" fill="#ffcc18" stroke="#000" stroke-width="0.8"/>
<path d="M573.5,221.3 L573.4,216.9 L578.1,218.1Z" fill="#ffcc18" stroke="#000" stroke-width="0.8"/>
<path d="M568.6,222.8 L566,222.8 L566.5,220.3Z" fill="#ffcc18" stroke="#000" stroke-width="0.8"/>
<path d="M544.2,229 L545.5,231.9 L542.7,231.6Z" fill="#ffcc18" stroke="#000" stroke-width="0.8"/>
<path d="M519.7,237.6 L521.8,234 L523.5,236.6Z" fill="#ffcc18" stroke="#000" stroke-width="0.8"/>
<path d="M518,234.5 L518.9,236.4 L516.2,237.6Z" fill="#ffcc18" stroke="#000" stroke-width="0.8"/>
<path d="M499.5,242.7 L498.1,238.3 L502.2,240.1Z" fill="#ffcc18" stroke="#000" stroke-width="0.8"/>
<path d="M485,241.6 L488.5,245.3 L484.2,246.5Z" fill="#ffcc18" stroke="#000" stroke-width="0.8"/>
<path d="M469.8,249.1 L473.8,246.2 L474,251.1Z" fill="#ffcc18" stroke="#000" stroke-width="0.8"/>
<path d="M459.7,286 L456.2,289.5 L454.4,284.4Z" fill="#ffcc18" stroke="#000" stroke-width="0.8"/>
<path d="M441.6,275 L445.5,276 L442.4,279.2Z" fill="#ffcc18" stroke="#000" stroke-width="0.8"/>
<path d="M437.8,269.4 L441.8,270 L440.5,273.9Z" fill="#ffcc18" stroke="#000" stroke-width="0.8"/>
<path d="M440.5,257.9 L436.8,261.1 L436.1,257.5Z" fill="#ffcc18" stroke="#000" stroke-width="0.8"/>
<path d="M438.5,251.8 L436.2,251.2 L438.1,249.3Z" fill="#ffcc18" stroke="#000" stroke-width="0.8"/>
<path d="M429.1,243.8 L430.9,241.1 L433,244Z" fill="#ffcc18" stroke="#000" stroke-width="0.8"/>
<path d="M423.2,239.4 L426,245.3 L420.5,243.2Z" fill="#ffcc18" stroke="#000" stroke-width="0.8"/>
<path d="M411.2,242.3 L410.3,238.6 L413.9,239.2Z" fill="#ffcc18" stroke="#000" stroke-width="0.8"/>
<path d="M392.9,228.6 L395.3,231.5 L391.6,232.1Z" fill="#fff" stroke="#000" stroke-width="0.7"/>
<path d="M385.8,236.4 L384.1,239.7 L382.1,236.6Z" fill="#fff" stroke="#000" stroke-width="0.7"/>
<path d="M364.5,245.7 L367.6,246.2 L365.6,248.5Z" fill="#fff" stroke="#000" stroke-width="0.7"/>
<path d="M354.2,256.7 L354.5,253.9 L356.8,255.5Z" fill="#fff" stroke="#000" stroke-width="0.7"/>
<path d="M329.2,284.4 L331.2,282 L332.3,285Z" fill="#fff" stroke="#000" stroke-width="0.7"/>
<path d="M324.8,288.8 L325.6,291.3 L323,290.8Z" fill="#fff" stroke="#000" stroke-width="0.7"/>
<path d="M306.9,313.1 L309,308.4 L311.9,312.6Z" fill="#fff" stroke="#000" stroke-width="0.7"/>
<path d="M398.2,235.8 L394.5,237.1 L394.1,232.7Z" fill="#66ff00" stroke="#000" stroke-width="0.8"/>
<path d="M393.2,236 L391.1,238.9 L388.7,235.7Z" fill="#66ff00" stroke="#000" stroke-width="0.8"/>
<path d="M385.1,242.4 L384.9,238.9 L387.3,239.8Z" fill="#66ff00" stroke="#000" stroke-width="0.8"/>
<path d="M378.8,249.8 L373.9,247.8 L378.1,245.2Z" fill="#66ff00" stroke="#000" stroke-width="0.8"/>
<path d="M365.3,256.3 L364.5,253.5 L367.9,253.7Z" fill="#66ff00" stroke="#000" stroke-width="0.8"/>
<g fill="#000"><ellipse cx="506" cy="427.3" rx="5" ry="2"/><ellipse cx="534.5" cy="433.5" rx="2.8" ry="1.6"/><ellipse cx="518" cy="423.3" rx="2" ry="0.9"/><ellipse cx="510.3" cy="433.2" rx="2" ry="0.8"/><ellipse cx="500.5" cy="396.9" rx="1.2" ry="0.8"/><ellipse cx="530" cy="425.3" rx="0.8" ry="0.8"/><ellipse cx="502.4" cy="419.4" rx="2.6" ry="0.7"/><ellipse cx="491" cy="442.3" rx="0.9" ry="0.9"/><ellipse cx="525" cy="401.8" rx="1.5" ry="1"/><ellipse cx="597.4" cy="590.6" rx="0.8" ry="0.8"/><ellipse cx="593.7" cy="604.4" rx="0.8" ry="0.8"/><ellipse cx="590" cy="610" rx="0.8" ry="0.8"/><ellipse cx="599.3" cy="615.6" rx="0.8" ry="0.8"/><ellipse cx="603.9" cy="614.6" rx="0.8" ry="0.8"/><ellipse cx="607.6" cy="629.4" rx="0.8" ry="0.8"/><ellipse cx="595.6" cy="634.1" rx="0.8" ry="0.8"/><ellipse cx="580.7" cy="637.8" rx="0.8" ry="0.8"/><ellipse cx="603" cy="645.2" rx="0.8" ry="0.8"/><ellipse cx="594.6" cy="648" rx="0.8" ry="0.8"/><ellipse cx="633.5" cy="644.3" rx="0.8" ry="0.8"/><ellipse cx="646.5" cy="613.7" rx="0.8" ry="0.8"/><ellipse cx="647" cy="618.9" rx="0.8" ry="0.8"/><ellipse cx="643.7" cy="623.9" rx="0.8" ry="0.8"/><ellipse cx="647.4" cy="650.7" rx="0.8" ry="0.8"/><ellipse cx="667.8" cy="648" rx="0.8" ry="0.8"/><ellipse cx="650.2" cy="663.7" rx="0.8" ry="0.8"/><ellipse cx="683.5" cy="659.1" rx="0.8" ry="0.8"/><ellipse cx="667.8" cy="668.3" rx="0.8" ry="0.8"/><ellipse cx="663.1" cy="677.6" rx="0.8" ry="0.8"/><ellipse cx="607.6" cy="677.6" rx="0.8" ry="0.8"/><ellipse cx="574.3" cy="668.3" rx="0.8" ry="0.8"/><ellipse cx="574.3" cy="674.8" rx="0.8" ry="0.8"/><ellipse cx="586.3" cy="680.4" rx="0.8" ry="0.8"/><ellipse cx="592.8" cy="683.1" rx="0.8" ry="0.8"/><ellipse cx="624.3" cy="695.2" rx="0.8" ry="0.8"/><ellipse cx="562.2" cy="702.6" rx="0.8" ry="0.8"/><ellipse cx="582.6" cy="708.1" rx="0.8" ry="0.8"/><ellipse cx="549.3" cy="712.8" rx="0.8" ry="0.8"/><ellipse cx="551.1" cy="651.7" rx="0.8" ry="0.8"/></g>
<g fill="none" stroke="#000" stroke-width="1.1" stroke-linejoin="round" clip-path="url(#cl_mb)">
<path d="M72.7,38 L72.5,55 L71.6,69.6 L67,73 L71.6,82.3 L65.8,84.6 L58.8,93.9 L53,91.6 L53,99.7 L45,105.5 L40,107"/>
<path d="M40,153.8 L50.1,148.7 L62,146.2 L73.8,145.4 L78,146.2 L72.1,150.4 L71.3,153.8 L73.8,158.9 L76.3,160.6 L76.3,167.3 L78.9,174.1 L80.6,180.8 L85.6,184.2 L97.5,184.2 L100.8,189.3 L95.8,194.4 L94.1,207.9 L90.7,218 L114.4,221.4 L114.4,234.9 L119.4,236.6 L121.1,241.7 L129.6,241.7 L138,238.3 L148.2,234.9 L153.2,233.2 L154.9,238.3 L156.6,245.1 L158.3,251.8 L166,252.5 L171.8,250.1 L175.2,253.5"/>
<path d="M166.5,215.1 L173,207 L176.2,208.6 L184.3,207 L189.2,208.6 L197.3,195.7 L205.4,197.3 L216.7,207 L226.5,194.8 L231.3,198.9 L236.2,194.8 L249.1,205.4 L254,194 L260.5,197.3 L263.7,199.7 L273.5,194 L278.3,184.3 L294.5,173.8 L302.6,184.3 L312.3,189.2 L320,187.6 L327.4,189.9 L336.4,191.7 L343.6,195.3 L341.8,206.1 L340,220.6 L350.9,224.2 L358.1,229.6 L363.5,236.8"/>
<path d="M166.5,215.1 L169.7,221.6 L174.6,229.7 L176.2,241 L174.6,250.8 L176.2,254 L169.7,250.8 L160,252.4"/>
<path d="M189.2,208.6 L203.8,224.8 L205.4,234.6 L213.5,234.6 L211.9,247.5 L210.2,250.8 L218.3,257.2 L224.8,263.7 L232.9,267 L239.4,271.8 L244.3,267 L254,260.5 L263.7,265.3 L273.5,271.8 L279.9,273.5 L283.2,283.2 L282,292 L272.9,303 L268.1,307.8 L261.6,305.4 L248.6,306.2 L247,319.2 L256.7,325.7 L268.1,332.1 L277.8,337 L287.5,341.9 L290.8,351.6 L297.2,358.1 L305.3,364.6 L307,374.3 L313.5,384 L323.2,390.5 L329.7,400.2 L337.8,409.9 L345.9,419.7 L352.4,426.1 L358.2,440.2 L368.4,453.7 L370,470.5 L366.7,484 L363.3,500.8"/>
<path d="M40,312.5 L44.2,304.2 L50.4,306.3 L60.8,306.3 L71.3,304.2 L84,292.4 L95.6,290.1 L100.2,283.1 L109.4,280.8 L116.4,278.5 L121,280.8 L128,280.8 L129.6,300 L131.7,310.4 L144.2,310.4 L156.7,310.4 L158.8,320.8 L160.8,331.3 L156.7,341.7 L152.5,352.1 L154.6,362.5 L148.3,370.8 L146.3,381.3 L152.5,383.3 L160.8,379.2 L169.2,372.9 L177.5,364.6 L185.8,358.3 L194.2,362.5 L202.5,368.8 L206.7,370.8 L217.1,366.7 L221.3,358.3 L227.5,352.1 L235.8,351 L240.5,353.2 L248.6,354.8 L253.5,362.9 L260,371 L268.1,377.5 L274.6,385.6 L274.6,403.5 L275.8,420 L287.5,431.8 L296,435.2 L297.6,441.9 L304.4,446.9 L301,457 L299.3,463.8 L302.7,470.5 L301,478.9 L301,487.3 L291.8,493.2"/>
<path d="M190,553 L186,540 L193,527 L200,517.6 L206.7,511.8 L215.2,500.8 L223.6,495.8 L237,490.7 L248.8,492.4 L264,490.7 L277.4,489 L284.2,490.7 L287.5,496.6 L291.8,493.2 L294.3,499.1 L304.4,497.4 L309.4,500.8 L321.2,502.5 L324.6,487.3 L334.7,484 L343.1,490.7 L348.1,494.1 L359.9,485.7 L366.7,482.3"/>
<path d="M304.4,446.9 L309.4,460.4 L314.5,470.5 L312.8,487.3 L311.1,497.4 L316.2,505.9"/>
<path d="M321.2,502.5 L316.2,510 L316.2,521 L314.5,527.7 L317.8,537.8 L311.1,560 L300,571.1 L280.6,576.7 L283.3,590 L286.1,610 L280.6,615.6 L269.4,626.7"/>
<path d="M40,375 L48.3,383.3 L56.7,391.7 L65,402.1 L67.1,412.5 L71.3,422.9 L78.5,419.8 L77.5,427.1 L69.2,433.3 L67.1,445.8 L67.2,458 L58.8,459.4 L54.7,462 L54.7,467.8 L56.1,476.1 L61.6,485.8 L69.9,494.2 L79.7,499.7 L85.2,506.7 L88,517.8 L85.2,531.7 L86.6,537.2 L93.6,545.6 L96.3,553.9 L98,575 L98.3,602.2"/>
<path d="M247.5,205.4 L250.8,215.1 L249.1,226.5 L257.2,231.3 L263.7,234.6 L267,241 L273.5,244.3 L278.3,247.5"/>
<path d="M260.5,265.3 L273.5,273.5 L286.4,276.7 L299.4,278.3 L309.1,281.6"/>
<path d="M203.8,224.8 L208.6,220 L213.5,221.6 L221.6,220 L228.1,218.3 L232.9,223.2 L234.6,236.2 L231.3,245.9 L228.1,250.8 L224.8,263.7"/>
<path d="M303.7,367.8 L313.5,364.6 L323.2,367.8 L332.9,366.2"/>
<path d="M342.6,393.7 L349.1,397 L355.6,400.2"/>
<path d="M368.6,525.9 L384.8,524.3 L397.8,529.2 L409.1,537.3 L417.2,547"/>
<path d="M357.3,564.8 L358.9,577.8 L362.1,587.5 L358.9,597.2 L365.4,600.5 L368.6,610.2 L362.1,613.4"/>
<path d="M384.8,564.8 L404.3,561.6 L410.7,558.3 L417.2,548.6"/>
<path d="M381.6,548.6 L384.8,564.8 L386.4,577.8 L381.6,581 L371.9,577.8"/>
<path d="M404.3,581 L404.3,590.7 L397.8,597.2 L384.8,598.8"/>
<path d="M358.9,505 L370,510.6 L375.6,524.4 L386.7,524.4 L397.8,530 L414.4,546.7 L420,557.8 L425.6,568.9"/>
<path d="M364.4,491.1 L364.4,505 L358.9,518.9 L356.1,535.6 L358.9,552.2 L353.3,568.9 L358.9,580 L370,591.1 L386.7,591.1 L397.8,602.2"/>
<path d="M370,546.7 L381.1,546.7 L386.7,557.8 L397.8,563.3 L408.9,563.3 L414.4,574.4 L420,580"/>
<path d="M375.6,563.3 L381.1,574.4 L375.6,580 L386.7,585.6 L397.8,582.8 L408.9,580"/>
<path d="M397.8,480 L408.9,485.6 L420,485.6 L425.6,496.7"/>
<path d="M392.2,457.8 L403.3,463.3 L414.4,460.6"/>
<path d="M375.6,430 L386.7,435.6 L397.8,432.8 L403.3,427.2"/>
<path d="M331.1,574.4 L336.7,591.1 L331.1,602.2 L342.2,607.8 L353.3,602.2 L364.4,607.8 L375.6,602.2"/>
<path d="M311.7,585.6 L320,596.7 L311.7,607.8 L297.8,610.6"/>
<path d="M339.4,396.7 L350.6,391.1 L358.9,402.2 L370,413.3 L386.7,416.1 L395,430 L403.3,446.7 L414.4,457.8"/>
<path d="M314.4,499.4 L317.2,518.9 L311.7,541.1 L317.2,557.8 L303.3,568.9 L283.9,580"/>
<path d="M293,189.4 L300,188 L302.8,185.3 L309.7,188.1"/>
<path d="M293,189.4 L295.8,195 L304.2,197.8 L308.3,200.6 L316.7,201.9 L319.4,207.5 L322.2,210.3 L320.8,222.8 L322.2,236.7 L330.6,242.2 L338.9,240.8 L347.2,245 L350,247.8"/>
<path d="M287.5,199.2 L286.1,208.9 L277.8,213.1 L275,217.2 L279.2,222.8 L280.6,231.1 L279.2,235.3 L286.1,238.1 L291.7,242.2 L295.8,247.8 L302.8,253.3 L308.3,258.9"/>
<path d="M300,203.3 L301.4,211.7 L298.6,220 L302.8,224.2 L309.7,225.6 L312.5,228.3 L315.3,231.1 L319.4,236.7 L322.2,239.4"/>
<path d="M262.5,217.2 L266.7,215.8 L269.4,221.4 L268.1,225.6 L269.4,232.5 L266.7,236.7 L270.8,245 L279.2,247.8 L280.6,253.3 L281.9,261.7 L287.5,264.4 L294.4,267.2 L302.8,267.2 L305.6,272.8 L311.1,278.3 L316.7,283.9 L322.2,290"/>
<path d="M250,233.9 L258.3,235.3 L262.5,243.6 L268.1,247.8 L270.8,246.4"/>
<path d="M250,260.3 L258.3,263.1 L265.3,265.8 L272.2,270 L277.8,272.8 L280.6,279.7 L283.3,285.3"/>
<path d="M293.1,243.6 L294.4,250.6 L300,256.1 L305.6,257.5 L311.1,256.1 L316.7,253.3 L322.2,250.6 L327.8,247.8 L333.3,251.9 L338.9,249.2 L347.2,247.8"/>
<path d="M311.1,258.9 L313.9,267.2 L319.4,275.6 L325,279.7 L330.6,281.1 L333.3,275.6 L338.9,270 L344.4,265.8"/>
<path d="M327.8,247.8 L330.6,258.9 L327.8,267.2 L333.3,270"/>
<path d="M338.9,222.8 L338.9,233.9 L333.3,236.7"/>
<path d="M266.7,627.1 L276.8,623.8 L285.3,618.7 L293.7,613.7 L302.1,610.3 L310.5,608.6 L318.9,610.3 L327.3,608.6 L335.8,613.7 L344.2,618.7"/>
<path d="M290.3,613.7 L298.7,623.8 L307.1,630.5 L317.2,637.2 L327.3,640.6 L337.4,644"/>
<path d="M293.7,650.7 L303.8,647.3 L310.5,654.1 L302.1,659.1 L293.7,660.8"/>
<path d="M278.5,655.8 L290.3,654.1 L292,664.2 L280.2,660.8"/>
<path d="M310.5,608.6 L313.9,600.2 L310.5,590.1 L318.9,586.7 L327.3,593.5"/>
<path d="M327.3,593.5 L330.7,603.6 L339.1,605.3 L342.5,613.7 L350.9,618.7 L357.6,613.7 L367.7,608.6 L377.8,600.2 L387.9,596.8 L398,593.5 L404.8,586.7 L411.5,580"/>
<path d="M285.3,580 L292,590.1 L290.3,610.3"/>
<path d="M453.9,172.8 L458,165.6 L469.4,171.8 L477.6,170.7 L480.7,173.8 L485.9,172.2 L498.2,169.7 L502.3,177.9 L508.5,182 L522.9,184.1 L530,181"/>
<path d="M642,831 L650,830 L655,829 L665,829.5 L672,828.5 L683,830 L691.1,829.5 L705.3,831 L710,836"/>
<path d="M590.6,822.9 L594.7,840"/>
<path d="M611.2,812.6 L615.3,840"/>
<path d="M619.4,808.5 L629.6,831"/>
<path d="M614,819 L620,818 L625,840"/>
<path d="M280.2,618.7 L293.7,633.9 L302.1,640.6 L310.5,647.3 L322.3,654.1 L332.4,657.4" stroke-width="2.2"/>
</g>
<g fill="none" stroke="#0000ff" stroke-width="2.6" stroke-linecap="round">
<path d="M78,36 L84,41.5"/>
<path d="M119.4,76.9 C120.2,78.9 122.5,83.9 124.5,88.7 C126.5,93.5 129.1,99.4 131.3,105.6 C133.6,111.8 135.8,119.7 138,125.9 C140.2,132.1 142,137.2 144.8,142.8 C147.6,148.4 151.1,154.2 154.9,159.7 C158.7,165.2 163.3,171.3 167.5,176 C171.7,180.7 175.8,184.2 180,188 C184.2,191.8 188.3,195.3 192.5,198.8 C196.7,202.3 201.8,205.5 205,209 C208.2,212.5 210.3,216.8 212,220 C213.7,223.2 214.5,223.1 215.4,227.9 C216.3,232.7 216.8,242.2 217.5,248.8 C218.2,255.4 218.2,260.9 219.6,267.5 C221,274.1 223.6,282.7 225.8,288.3 C228,293.9 231.8,298.9 233,301"/>
<path d="M267.5,321.7 C270.6,322.4 280.4,324.1 286.3,325.8 C292.2,327.5 296.4,330.7 302.9,332.1 C309.3,333.5 318.5,334.9 325,334 C331.5,333.1 336.8,330.8 342,327 C347.2,323.2 351,316.7 356,311 C361,305.3 366.3,299.1 372,293 C377.7,286.9 385,280.2 390,274.7 C395,269.2 398.1,264.1 402,260 C405.9,255.9 409.9,254.3 413.7,249.9 C417.5,245.5 420.8,238.3 424.9,233.3 C429,228.3 433.5,223.6 438.4,219.8 C443.3,216.1 448.1,213.4 454.1,210.8 C460.1,208.2 469.7,205.4 474.3,204.1 C478.9,202.8 480.7,203.2 482,203"/>
<path d="M517,192.9 C520.4,191.4 530.1,186.9 537.2,183.9 C544.3,180.9 552.1,178.3 559.6,174.9 C567.1,171.5 576.1,166.5 582.1,163.7 C588.1,160.9 591.8,159.6 595.5,158.1 C599.2,156.6 598.8,156.2 604.5,154.7 C610.2,153.1 620.5,152.3 629.7,148.8 C638.9,145.3 649.6,139.3 659.6,133.8 C669.6,128.3 680.6,121.3 689.6,115.8 C698.6,110.3 706.5,106.4 713.5,100.9 C720.5,95.4 727,89.4 731.5,82.9 C736,76.4 738.5,69 740.5,62 C742.5,55 742.9,45.3 743.5,41 C744.1,36.7 743.9,36.8 744,36"/>
<path d="M180,36 C181.2,39.1 185.6,48.9 187,54.9 C188.4,60.9 188.4,65.3 188.7,71.8 C189,78.3 188.7,87.6 188.7,93.8 C188.7,100 188.7,106.5 188.7,109"/>
<path d="M198.9,147.9 C200.3,149.9 204.5,156 207.3,159.7 C210.1,163.3 212.3,166.3 215.8,169.8 C219.3,173.3 223.1,176.9 228.1,180.8 C233.1,184.8 240.1,189.9 246.1,193.5 C252.1,197.1 258.2,200.1 264.2,202.5 C270.2,204.9 276.2,206.1 282.2,207.9 C288.2,209.7 294.3,211.2 300.3,213.3 C306.3,215.4 312.4,218.9 318.4,220.6 C324.4,222.3 330.4,223.6 336.4,223.3 C342.4,223 348.5,221.1 354.5,218.8 C360.5,216.5 368.2,212 372.5,209.7 C376.8,207.4 376.5,207.2 380,205.2 C383.5,203.1 389,200.2 393.5,197.4 C398,194.6 401.7,191.6 406.9,188.4 C412.1,185.2 421.4,180.3 424.9,178.3 C428.4,176.3 427.5,176.8 428,176.5"/>
<path d="M457,157.5 C461,156.3 473.2,152.5 481,150.2 C488.8,147.9 496,145.4 503.5,143.5 C511,141.6 518.4,140.5 525.9,139 C533.4,137.5 540.5,136.2 548.4,134.5 C556.3,132.8 564.5,131.6 573.1,129 C581.7,126.4 590.4,122.5 599.8,118.8 C609.2,115.1 619.7,111.9 629.7,106.9 C639.7,101.9 650.6,95.4 659.6,88.9 C668.6,82.4 677.1,73.9 683.6,67.9 C690.1,61.9 695.1,57.5 698.6,53 C702.1,48.5 703.4,43.8 704.6,41 C705.8,38.2 705.8,36.8 706,36"/>
<path d="M215,36 C215.9,42.2 219.2,62.8 220.7,73.5 C222.2,84.2 222.4,91.3 224.2,100.2 C226,109.1 227.8,118.9 231.3,126.9 C234.9,134.9 240.2,142.3 245.5,148.2 C250.8,154.1 257.4,159.4 263.3,162.4 C269.2,165.4 275.2,165.7 281.1,166 C287,166.3 293,165.1 298.9,164.2 C304.8,163.3 310.7,162.1 316.6,160.6 C322.5,159.1 331.4,156.2 334.4,155.3"/>
<path d="M371.7,141.1 C374.4,139.9 383,136.1 387.7,134 C392.4,131.9 391.7,131.6 400,128.7 C408.3,125.8 424.9,119.7 437.4,116.6 C449.9,113.5 462.7,111.4 474.8,110 C486.9,108.6 499,109.9 509.9,108.4 C520.8,106.9 529.9,104.2 539.9,100.9 C549.9,97.7 559.8,93.9 569.8,88.9 C579.8,83.9 592.8,76.9 599.8,70.9 C606.8,64.9 608.2,58 611.7,53 C615.2,48 618.8,43.8 620.7,41 C622.6,38.2 622.6,36.8 623,36"/>
<path d="M245,36 L247.3,43.3"/>
<path d="M270.4,71.8 C272.2,72.4 276.4,74.1 281.1,75.3 C285.9,76.5 293,77.7 298.9,78.9 C304.8,80.1 310.7,81.5 316.6,82.4 C322.5,83.3 328.5,83.8 334.4,84.2 C340.3,84.7 346.3,85.1 352.2,85.1 C358.1,85.1 364.1,84.7 370,84.2 C375.9,83.8 382.7,82.9 387.7,82.4 C392.7,82 391.7,82.2 400,81.5 C408.3,80.8 426.6,79.1 437.4,78 C448.2,76.9 457.9,75.9 465,75 C472.1,74.1 472.5,73.6 480,72.4 C487.5,71.2 502.4,70.6 509.9,67.9 C517.4,65.2 520.6,60.5 524.9,56 C529.1,51.5 533.4,44.3 535.4,41 C537.4,37.7 536.7,36.8 537,36"/>
<path d="M36,179.5 C36.7,179.3 37.6,179.2 40,178.3 C42.4,177.4 46.7,175.5 50.1,174.1 C53.5,172.7 56.9,170.9 60.3,169.9 C63.7,168.9 67.7,168.2 70.4,168.2 C73.1,168.2 74.6,168.3 76.3,169.9 C78,171.5 79.2,173.4 80.6,177.5 C82,181.6 83.4,188.8 84.8,194.4 C86.2,200 88,207.4 89,211.3 C90,215.2 90.7,216.9 91,218"/>
<path d="M117.7,250.1 C119.8,251.3 125.9,254.2 130,257.1 C134.1,260 137.3,263 142.5,267.5 C147.7,272 155.8,278.6 161.3,284.2 C166.9,289.8 170.6,295.2 175.8,300.8 C181,306.4 186.9,313 192.5,317.5 C198.1,322 203.6,324.8 209.2,327.9 C214.8,331 219.6,333.2 225.8,336.3 C232.1,339.4 240.2,342.8 246.7,346.7 C253.1,350.6 257.8,355.2 264.5,359.9 C271.2,364.6 280.2,370.6 287,374.8 C293.8,379 298.6,380.4 305,385 C311.4,389.6 321.6,398.9 325.6,402.2 C329.6,405.5 328.4,404.5 329,405"/>
<path d="M359,423.5 C361.3,422.7 369.1,421 372.8,418.9 C376.5,416.8 378.7,414.6 381.1,410.6 C383.6,406.6 385.4,400.4 387.5,395 C389.6,389.6 391.2,383.8 393.6,378 C396,372.2 398,366 402,360 C406,354 411.1,347.7 417.4,342.2 C423.7,336.7 431.8,334.1 439.9,327.2 C448,320.3 459.2,307.9 466.1,301 C473,294.1 474.1,291.1 481,286.1 C487.9,281.1 497.8,276.7 507.2,271.1 C516.6,265.5 530.7,256.1 537.2,252.4 C543.7,248.7 544.5,249.6 546,249"/>
<path d="M582,224 C585,221.4 591.8,214.8 599.8,208.7 C607.8,202.6 619.7,194.2 629.7,187.7 C639.7,181.2 649.6,176.2 659.6,169.7 C669.6,163.2 679.6,155.8 689.6,148.8 C699.6,141.8 710.5,134.3 719.5,127.8 C728.5,121.3 736.5,115.9 743.5,109.9 C750.5,103.9 756.7,97.9 761.4,91.9 C766.1,85.9 769.6,79.9 771.9,73.9 C774.1,67.9 774.1,61.5 774.9,56 C775.6,50.5 776,44.3 776.4,41 C776.8,37.7 776.9,36.8 777,36"/>
<path d="M577.5,844 C577.5,841.3 577.5,833.4 577.2,827.7 C576.9,822 577.5,815.7 575.7,809.7 C574,803.7 571.2,796.7 566.7,791.7 C562.2,786.8 556,783.6 549,780 C542,776.4 534,772.7 525,770 C516,767.3 504.2,765.7 495,764 C485.8,762.3 478.3,761.7 470,760 C461.7,758.3 452.5,756.8 445,754 C437.5,751.2 431.9,746.4 425,743 C418.1,739.6 411.2,736.5 403.3,733.9 C395.4,731.3 386.1,728 377.5,727.4 C368.9,726.8 356.2,729.6 352,730"/>
<path d="M316,745 C313.6,745.5 307.4,748.9 301.9,748.2 C296.4,747.5 289.4,745.1 283.2,740.8 C277,736.4 270.1,729 264.5,722.1 C258.9,715.2 254.5,707.1 249.5,699.6 C244.5,692.1 239.6,683.4 234.6,677.2 C229.6,671 225.8,666.6 219.6,662.2 C213.4,657.8 205.3,655.4 197.2,651 C189.1,646.6 178.5,641 171,636 C163.5,631 158.6,626.6 152.3,621 C146.1,615.4 140.2,607.3 133.5,602.3 C126.8,597.3 115.6,592.9 112,591"/>
<path d="M84.4,565 C84.9,562 86.3,552.5 87.2,546.7 C88.1,540.9 89.1,535.6 90,530 C90.9,524.4 91.4,518.8 92.8,513.3 C94.2,507.7 95.5,501.5 98.3,496.7 C101.1,491.9 105.2,487.7 109.4,484.2 C113.6,480.7 118.7,477.6 123.3,475.8 C127.9,474 132.3,472.9 137.2,473.1 C142,473.3 147.2,475 152.4,477 C157.6,479 163.2,482.8 168.6,485.1 C174,487.4 179.4,489.6 184.8,490.7 C190.2,491.8 195.6,491.6 201,491.5 C206.4,491.4 212.4,490.8 217.2,489.9 C222,489 224.9,487.6 230,486 C235.1,484.4 240.8,482.7 247.8,480 C254.8,477.3 268,471.7 272,470"/>
<path d="M314.4,456.4 C318.1,457.1 329.3,458.1 336.7,460.6 C344.1,463.2 352.4,468 358.9,471.7 C365.4,475.4 370.1,479.1 375.6,482.8 C381.2,486.5 388,489.4 392.2,493.9 C396.4,498.4 398.7,504.9 401,509.7 C403.3,514.5 404.3,518.7 405.9,522.7 C407.5,526.8 408.8,531.4 410.7,534 C412.6,536.6 414.5,537.4 417.2,538.1 C419.9,538.8 424.3,538.8 427,538.1 C429.7,537.4 430.2,536.3 433.4,534 C436.6,531.7 442,527.5 446.4,524.3 C450.8,521.1 455.5,518.8 460,514.6 C464.5,510.4 468.1,505 473.5,499.3 C478.9,493.6 487.3,487.4 492.3,480.6 C497.3,473.8 501.6,462.4 503.5,458.7"/>
<path d="M514.5,421 C515.4,419.2 517.5,414.4 520,410 C522.5,405.6 525,400.9 529.7,394.6 C534.4,388.3 540.9,379.6 548.4,372.1 C555.9,364.6 566.5,357.2 574.6,349.7 C582.7,342.2 589.5,334.7 597,327.2 C604.5,319.7 612,309.8 619.5,304.8 C627,299.8 633.2,299.8 641.9,297.3 C650.6,294.8 662.5,293.6 671.9,289.8 C681.2,286.1 691.1,278.9 698,274.8 C704.9,270.7 710.5,266.6 713,265"/>
<path d="M754.2,252.4 C756.7,252.1 765.2,252.4 769.2,250.5 C773.2,248.6 776.9,246.4 778.5,241.2 C780.1,236 779.2,226.1 779.1,219.5 C779,212.9 777.1,206.9 777.6,201.4 C778.1,195.9 779.8,190.9 782.1,186.4 C784.4,181.9 787.2,179.4 791.2,174.4 C795.2,169.4 800.7,161.8 806.2,156.3 C811.7,150.8 818.8,144.8 824.3,141.3 C829.8,137.8 834.3,136 839.3,135.2 C844.3,134.4 849.4,135.2 854.4,136.7 C859.4,138.2 864.9,141 869.4,144.3 C873.9,147.6 878.6,151.3 881.4,156.3 C884.2,161.3 885.5,167.9 886,174.4 C886.5,180.9 885.1,189.8 884.4,195.4 C883.7,201 882.4,205.9 882,208"/>
<path d="M857.4,240.6 C854.4,243.6 844.3,253.6 839.3,258.6 C834.3,263.6 830,266.2 827.3,270.7 C824.5,275.2 823,280.2 822.8,285.7 C822.5,291.2 824,298.1 825.8,303.8 C827.5,309.5 830,315.8 833.3,320 C836.6,324.2 842.4,325.4 845.6,329.3 C848.8,333.2 850.7,338.5 852.6,343.1 C854.5,347.7 856.1,351.6 857.2,357 C858.4,362.4 859.1,369.4 859.5,375.6 C859.9,381.8 859.5,387.9 859.5,394.1 C859.5,400.3 859.1,406.4 859.5,412.6 C859.9,418.8 860.4,424.9 861.9,431.1 C863.4,437.3 866.1,443.8 868.8,449.6 C871.5,455.4 875.6,461.4 878.1,465.8 C880.6,470.2 883,474.3 884,476"/>
<path d="M913,501 C915.3,502.5 921.3,505.9 926.7,510.1 C932.1,514.3 939,520.5 945.2,526.3 C951.4,532.1 957.5,538.6 963.7,544.8 C969.9,551 976.5,557.1 982.2,563.3 C987.9,569.5 995.4,578.9 998,582"/>
<path d="M998,111 C995.1,114.5 985.6,124.6 980.7,132.2 C975.8,139.8 972.2,147.3 968.7,156.3 C965.2,165.3 962,176.4 959.7,186.4 C957.5,196.4 955.7,206.5 955.2,216.5 C954.7,226.5 955,236.6 956.7,246.6 C958.5,256.6 962.2,268.7 965.7,276.7 C969.2,284.7 972.3,288.5 977.7,294.7 C983.1,300.9 994.6,310.8 998,314"/>
<path d="M710.5,469 C709.7,467.2 708.2,463.1 705.5,458.2 C702.8,453.3 699.3,444.2 694.3,439.5 C689.3,434.8 681.8,430.7 675.6,430.1 C669.4,429.5 663.8,431 656.9,435.7 C650,440.4 642.2,450.8 634.4,458.2 C626.5,465.6 618.2,472.1 609.8,480 C601.4,487.9 591.9,497.2 584,505.8 C576.1,514.4 568.2,523 562.5,531.6 C556.8,540.2 552.8,548.2 549.6,557.5 C546.4,566.8 543.8,577.6 543.1,587.6 C542.4,597.6 543.5,609.1 545.3,617.7 C547.1,626.3 552.5,635.6 553.9,639.2"/>
<path d="M586,659 C587.1,659.3 587.2,659.3 592.6,660.7 C598,662.1 609.8,665.9 618.4,667.2 C627,668.5 635.6,669.6 644.2,668.5 C652.8,667.4 662.2,664.9 670.1,660.7 C678,656.5 685.2,650.7 691.6,643.5 C698,636.3 704.9,627 708.8,617.7 C712.7,608.4 713.8,599.8 715.2,587.6 C716.6,575.4 717.2,558.1 717.4,544.5 C717.6,530.9 716.8,513 716.5,505.8 C716.2,498.6 715.7,501.8 715.5,501"/>
</g>
<g font-family="Liberation Sans,sans-serif" font-size="14.5" fill="#0000ff" stroke="#0000ff" stroke-width="0.35" text-anchor="middle">
<text x="106.5" y="65.7" transform="rotate(47 106.5 60.5)">1014</text>
<text x="250.5" y="319.7" transform="rotate(22 250.5 314.5)">1014</text>
<text x="500" y="203.7" transform="rotate(-20 500 198.5)">1014</text>
<text x="191.3" y="133.7" transform="rotate(70 191.3 128.5)">1016</text>
<text x="442.6" y="172.3" transform="rotate(-35 442.6 167.1)">1016</text>
<text x="354" y="154.3" transform="rotate(-31 354 149.1)">1018</text>
<text x="255.4" y="65.4" transform="rotate(57 255.4 60.2)">1020</text>
<text x="104" y="243.2" transform="rotate(52 104 238)">1012</text>
<text x="342.8" y="419.1" transform="rotate(35 342.8 413.9)">1012</text>
<text x="565.5" y="241.7" transform="rotate(-35 565.5 236.5)">1012</text>
<text x="333.4" y="744.5" transform="rotate(-25 333.4 739.3)">1010</text>
<text x="95.6" y="586.6" transform="rotate(40 95.6 581.4)">1010</text>
<text x="294" y="463.7" transform="rotate(-19 294 458.5)">1010</text>
<text x="509.5" y="443.2" transform="rotate(-68 509.5 438)">1010</text>
<text x="733.6" y="260.4" transform="rotate(-12 733.6 255.2)">1010</text>
<text x="869" y="230.2" transform="rotate(-60 869 225)">1010</text>
<text x="899" y="494.2" transform="rotate(35 899 489)">1010</text>
<text x="569" y="653.2" transform="rotate(25 569 648)">1008</text>
<text x="713" y="490.2" transform="rotate(84 713 485)">1008</text>
</g>
<g font-family="Liberation Serif,serif" font-size="12.5" fill="#1a1ae6">
<text x="320.2" y="263.5">Ha Noi</text>
<text x="309.3" y="262.5" font-size="11" text-anchor="middle">★</text>
<text x="144.2" y="371.5">Vientiane</text>
<text x="203.2" y="370.9" font-size="11" text-anchor="middle">★</text>
<text x="77.5" y="519">Bangkok</text>
<text x="133" y="517.3" font-size="11" text-anchor="middle">★</text>
<text x="211.1" y="593.5">Phnompenh</text>
<text x="279.2" y="592.3" font-size="11" text-anchor="middle">★</text>
<text x="349.2" y="619">Ho Chi Minh City</text>
<circle cx="338.6" cy="613.4" r="2.2"/>
<text x="602.8" y="219">Hongkong</text>
<text x="852.8" y="118">Taipei</text>
<text x="840.8" y="115.8" font-size="11" text-anchor="middle">★</text>
<text x="829.4" y="489">Manila</text>
<text x="820.6" y="488.8" font-size="11" text-anchor="middle">★</text>
<text x="539" y="412.5">Hoang Sa</text>
<circle cx="529.7" cy="406.5" r="2.2"/>
<text x="524.8" y="692">Truong Sa</text>
<circle cx="515.2" cy="687" r="2.2"/>
</g>
<rect x="580.5" y="204.5" width="21" height="13" fill="none" stroke="#000" stroke-width="1.2"/>
</g>
<rect x="40" y="38" width="956" height="802" fill="none" stroke="#000" stroke-width="2"/>
<rect x="40" y="748" width="147" height="92" fill="#fff" stroke="#000" stroke-width="2"/>
<g>
<circle cx="62.9" cy="770" r="18.3" fill="#2020e0"/>
<path d="M45.2,774 A18.1,18.1 0 0 1 64.5,752 C59.5,757 58.5,764 63,770.5 C57,768 50,769 45.2,774Z" fill="#fff"/>
<ellipse cx="69" cy="761" rx="5" ry="3.2" fill="#fff"/>
<ellipse cx="71" cy="764.5" rx="3.5" ry="1.2" fill="#fff"/>
<path d="M50,782 C56,779 63,781 70,786" stroke="#fff" stroke-width="1" fill="none"/>
<path d="M53,777 C55,774 57,773 59,775" stroke="#fff" stroke-width="0.9" fill="none"/>
<text x="51" y="796" font-family="Liberation Sans,sans-serif" font-size="6.5" font-weight="bold" fill="#2020e0" textLength="23">NCHMF</text>
<text x="144" y="770" font-family="Liberation Serif,serif" font-size="12.7" fill="#4a4af5" text-anchor="middle">** NCHMF **</text>
<text x="113.5" y="799.2" font-family="Liberation Sans,sans-serif" font-size="12.8" font-weight="bold" fill="#1414f0" text-anchor="middle">54h Forecast</text>
<text x="113" y="818.4" font-family="Liberation Sans,sans-serif" font-size="12.8" font-weight="bold" fill="#1414f0" text-anchor="middle">01hr – 02/11/2024</text>
<text x="113.7" y="837.7" font-family="Liberation Sans,sans-serif" font-size="12.8" font-weight="bold" fill="#1414f0" text-anchor="middle">Model: WRF3KM–IFS</text>
</g>
<g font-family="Liberation Sans,sans-serif" font-size="14.5" fill="#000">
<text x="29" y="120" text-anchor="end">25</text>
<text x="29" y="302" text-anchor="end">20</text>
<text x="29" y="476.3" text-anchor="end">15</text>
<text x="29" y="646.8" text-anchor="end">10</text>
<text x="29" y="815.3" text-anchor="end">5</text>
<text x="113.2" y="858.3" text-anchor="middle">100</text>
<text x="280.7" y="858.3" text-anchor="middle">105</text>
<text x="448.2" y="858.3" text-anchor="middle">110</text>
<text x="615.7" y="858.3" text-anchor="middle">115</text>
<text x="783.2" y="858.3" text-anchor="middle">120</text>
<text x="950.7" y="858.3" text-anchor="middle">125</text>
</g>
<g fill="none" stroke="#000" stroke-width="0.8">
<path d="M30.2,109.7 l1.7,2.3 l1.7,-2.3"/>
<path d="M30.2,291.7 l1.7,2.3 l1.7,-2.3"/>
<path d="M30.2,466 l1.7,2.3 l1.7,-2.3"/>
<path d="M30.2,636.5 l1.7,2.3 l1.7,-2.3"/>
<path d="M30.2,805 l1.7,2.3 l1.7,-2.3"/>
<path d="M125.8,848 l1.7,2.3 l1.7,-2.3"/>
<path d="M293.3,848 l1.7,2.3 l1.7,-2.3"/>
<path d="M460.8,848 l1.7,2.3 l1.7,-2.3"/>
<path d="M628.3,848 l1.7,2.3 l1.7,-2.3"/>
<path d="M795.8,848 l1.7,2.3 l1.7,-2.3"/>
<path d="M963.3,848 l1.7,2.3 l1.7,-2.3"/>
</g>
<g>
<rect x="1010.0" y="54.00" width="16.3" height="40.85" fill="#b00000"/>
<rect x="1010.0" y="94.55" width="16.3" height="40.85" fill="#cc0000"/>
<rect x="1010.0" y="135.10" width="16.3" height="40.85" fill="#dd0000"/>
<rect x="1010.0" y="175.65" width="16.3" height="40.85" fill="#ff0000"/>
<rect x="1010.0" y="216.20" width="16.3" height="40.85" fill="#ff3319"/>
<rect x="1010.0" y="256.75" width="16.3" height="40.85" fill="#ff6619"/>
<rect x="1010.0" y="297.30" width="16.3" height="40.85" fill="#ff9a20"/>
<rect x="1010.0" y="337.85" width="16.3" height="40.85" fill="#ffcc18"/>
<rect x="1010.0" y="378.40" width="16.3" height="40.85" fill="#ffff18"/>
<rect x="1010.0" y="418.95" width="16.3" height="40.85" fill="#66ff00"/>
<rect x="1010.0" y="459.50" width="16.3" height="40.85" fill="#339900"/>
<rect x="1010.0" y="500.05" width="16.3" height="40.85" fill="#00b24a"/>
<rect x="1010.0" y="540.60" width="16.3" height="40.85" fill="#02e89c"/>
<rect x="1010.0" y="581.15" width="16.3" height="40.85" fill="#00ffff"/>
<rect x="1010.0" y="621.70" width="16.3" height="40.85" fill="#a2a2e8"/>
<rect x="1010.0" y="662.25" width="16.3" height="40.85" fill="#8888ff"/>
<rect x="1010.0" y="702.80" width="16.3" height="40.85" fill="#5555ff"/>
<rect x="1010.0" y="743.35" width="16.3" height="40.85" fill="#2a2aee"/>
<rect x="1010.0" y="783.90" width="16.3" height="40.85" fill="#9900cc"/>
<path d="M1010.0,54.0 L1018.15,29.5 L1026.3,54.0Z" fill="#990000" stroke="#000" stroke-width="1.6" stroke-linejoin="miter"/>
<path d="M1010.0,824.45 L1018.15,848.5 L1026.3,824.45Z" fill="#660099" stroke="#000" stroke-width="1.6"/>
<rect x="1010.0" y="54.0" width="16.3" height="770.45" fill="none" stroke="#000" stroke-width="1.6"/>
<g font-family="Liberation Sans,sans-serif" font-size="14.5" fill="#000">
<text x="1048.5" y="59.2" text-anchor="end">38</text>
<text x="1048.5" y="99.8" text-anchor="end">36</text>
<text x="1048.5" y="140.3" text-anchor="end" font-weight="bold">34</text>
<text x="1048.5" y="180.8" text-anchor="end">32</text>
<text x="1048.5" y="221.4" text-anchor="end">30</text>
<text x="1048.5" y="261.9" text-anchor="end">28</text>
<text x="1048.5" y="302.5" text-anchor="end">26</text>
<text x="1048.5" y="343.0" text-anchor="end" font-weight="bold">24</text>
<text x="1048.5" y="383.6" text-anchor="end">22</text>
<text x="1048.5" y="424.1" text-anchor="end">20</text>
<text x="1048.5" y="464.7" text-anchor="end">18</text>
<text x="1048.5" y="505.2" text-anchor="end">16</text>
<text x="1048.5" y="545.8" text-anchor="end" font-weight="bold">14</text>
<text x="1048.5" y="586.4" text-anchor="end">12</text>
<text x="1048.5" y="626.9" text-anchor="end">10</text>
<text x="1048.5" y="667.5" text-anchor="end">8</text>
<text x="1048.5" y="708.0" text-anchor="end">6</text>
<text x="1048.5" y="748.5" text-anchor="end" font-weight="bold">4</text>
<text x="1048.5" y="789.1" text-anchor="end">2</text>
<text x="1048.5" y="829.6" text-anchor="end">0</text>
</g>
<text x="1010" y="18.2" font-family="Liberation Sans,sans-serif" font-size="9" fill="#000">o</text><text x="1016.6" y="25" font-family="Liberation Sans,sans-serif" font-size="14" fill="#000">C</text>
</g>
</svg>
</body></html>
